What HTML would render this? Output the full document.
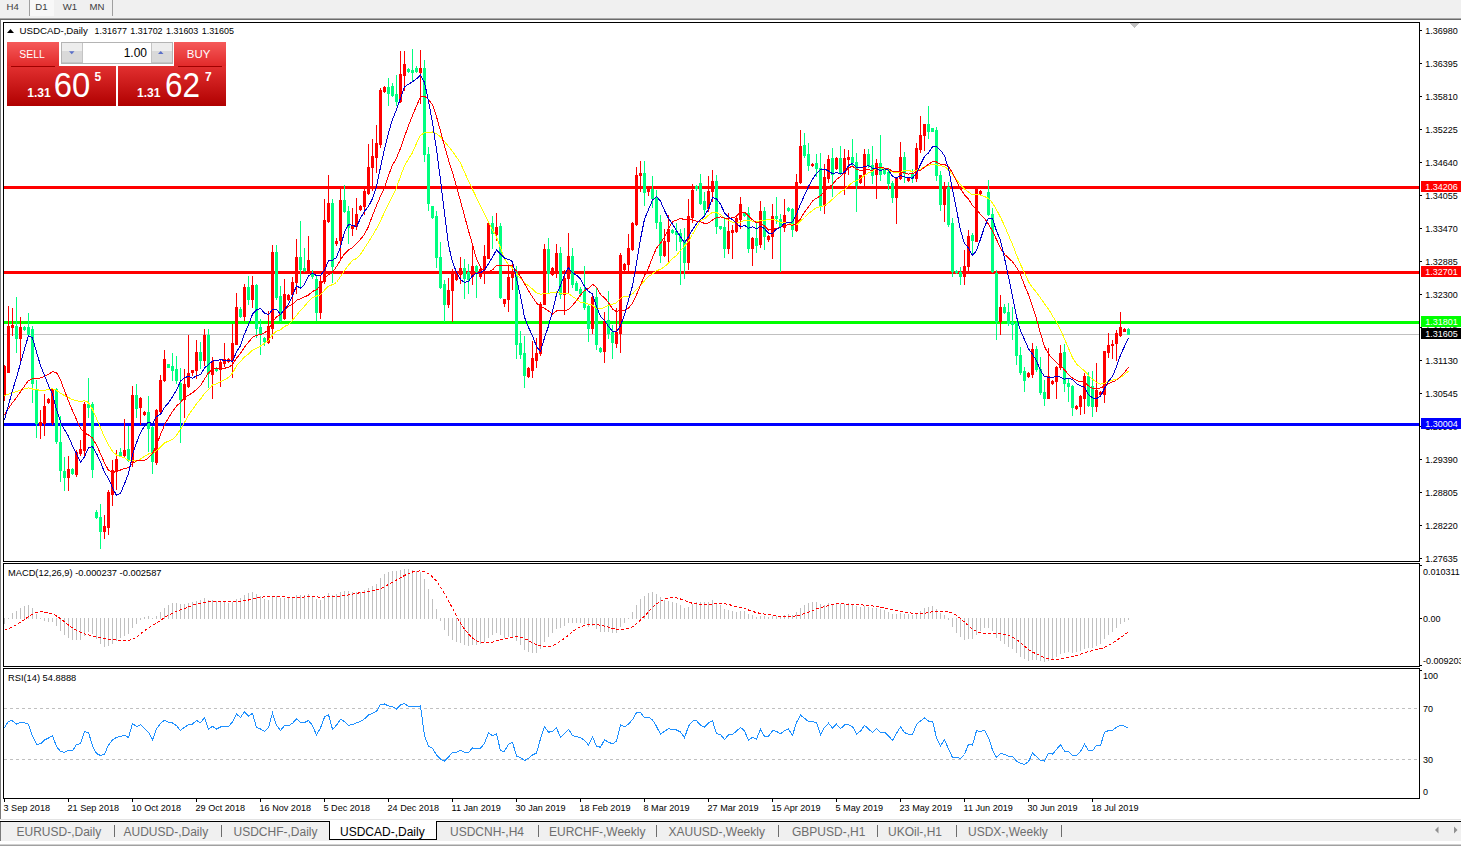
<!DOCTYPE html>
<html><head><meta charset="utf-8">
<style>
html,body{margin:0;padding:0;width:1461px;height:846px;overflow:hidden;background:#fff;}
svg{position:absolute;left:0;top:0;}
text{font-family:"Liberation Sans", sans-serif;}
</style></head><body>
<svg width="1461" height="846" viewBox="0 0 1461 846">
<!-- toolbar -->
<rect x="0" y="0" width="1461" height="18" fill="#f0f0f0"/>
<rect x="0" y="18" width="1461" height="1" fill="#a9a9a9"/>
<rect x="0" y="19" width="1461" height="1" fill="#6b6b6b"/>
<rect x="30" y="0" width="24" height="16" fill="#f8f8f8"/>
<rect x="29" y="0" width="1" height="16" fill="#a0a0a0"/>
<rect x="112" y="0" width="1" height="16" fill="#a0a0a0"/>
<g fill="#3c3c3c" font-size="9.6">
<text x="6.5" y="10">H4</text><text x="35.3" y="10">D1</text><text x="62.8" y="10">W1</text><text x="89.5" y="10">MN</text>
</g>
<!-- left window edge -->
<rect x="0" y="20" width="1" height="799" fill="#7a7a7a"/>
<!-- clip region for chart -->
<defs><clipPath id="cm"><rect x="4" y="23" width="1415" height="538"/></clipPath>
<clipPath id="cmacd"><rect x="4" y="564" width="1415" height="102"/></clipPath>
<clipPath id="crsi"><rect x="4" y="669" width="1415" height="129"/></clipPath></defs>
<g clip-path="url(#cm)" shape-rendering="crispEdges">
<rect x="4" y="334" width="1415" height="1" fill="#c0c0c0"/>
<rect x="4" y="186" width="1415" height="3" fill="#ff0000"/>
<rect x="4" y="271" width="1415" height="3" fill="#ff0000"/>
<rect x="4" y="321" width="1415" height="3" fill="#00ff00"/>
<rect x="4" y="423" width="1415" height="3" fill="#0000ff"/>
<rect x="4" y="365" width="1" height="36" fill="#ff0000"/>
<rect x="3" y="366" width="3" height="30" fill="#ff0000"/>
<rect x="8" y="306" width="1" height="67" fill="#ff0000"/>
<rect x="7" y="326" width="3" height="47" fill="#ff0000"/>
<rect x="12" y="308" width="1" height="28" fill="#ff0000"/>
<rect x="11" y="325" width="3" height="3" fill="#ff0000"/>
<rect x="16" y="297" width="1" height="56" fill="#00ff7f"/>
<rect x="15" y="326" width="3" height="13" fill="#00ff7f"/>
<rect x="20" y="317" width="1" height="48" fill="#ff0000"/>
<rect x="19" y="327" width="3" height="12" fill="#ff0000"/>
<rect x="24" y="326" width="1" height="5" fill="#00ff7f"/>
<rect x="23" y="327" width="3" height="3" fill="#00ff7f"/>
<rect x="28" y="313" width="1" height="23" fill="#00ff7f"/>
<rect x="27" y="327" width="3" height="8" fill="#00ff7f"/>
<rect x="32" y="326" width="1" height="77" fill="#00ff7f"/>
<rect x="31" y="329" width="3" height="55" fill="#00ff7f"/>
<rect x="36" y="380" width="1" height="58" fill="#00ff7f"/>
<rect x="35" y="389" width="3" height="35" fill="#00ff7f"/>
<rect x="40" y="410" width="1" height="29" fill="#ff0000"/>
<rect x="39" y="422" width="3" height="4" fill="#ff0000"/>
<rect x="44" y="394" width="1" height="42" fill="#ff0000"/>
<rect x="43" y="406" width="3" height="18" fill="#ff0000"/>
<rect x="48" y="398" width="1" height="6" fill="#ff0000"/>
<rect x="47" y="399" width="3" height="4" fill="#ff0000"/>
<rect x="52" y="388" width="1" height="37" fill="#ff0000"/>
<rect x="51" y="389" width="3" height="34" fill="#ff0000"/>
<rect x="56" y="388" width="1" height="56" fill="#00ff7f"/>
<rect x="55" y="389" width="3" height="53" fill="#00ff7f"/>
<rect x="60" y="416" width="1" height="66" fill="#00ff7f"/>
<rect x="59" y="442" width="3" height="29" fill="#00ff7f"/>
<rect x="64" y="457" width="1" height="34" fill="#00ff7f"/>
<rect x="63" y="471" width="3" height="7" fill="#00ff7f"/>
<rect x="68" y="456" width="1" height="35" fill="#ff0000"/>
<rect x="67" y="469" width="3" height="9" fill="#ff0000"/>
<rect x="72" y="468" width="1" height="7" fill="#00ff7f"/>
<rect x="71" y="469" width="3" height="5" fill="#00ff7f"/>
<rect x="76" y="450" width="1" height="27" fill="#ff0000"/>
<rect x="75" y="452" width="3" height="23" fill="#ff0000"/>
<rect x="80" y="440" width="1" height="16" fill="#ff0000"/>
<rect x="79" y="449" width="3" height="5" fill="#ff0000"/>
<rect x="84" y="402" width="1" height="55" fill="#ff0000"/>
<rect x="83" y="404" width="3" height="47" fill="#ff0000"/>
<rect x="88" y="378" width="1" height="40" fill="#00ff7f"/>
<rect x="87" y="404" width="3" height="4" fill="#00ff7f"/>
<rect x="92" y="402" width="1" height="76" fill="#00ff7f"/>
<rect x="91" y="404" width="3" height="66" fill="#00ff7f"/>
<rect x="96" y="510" width="1" height="9" fill="#00ff7f"/>
<rect x="95" y="512" width="3" height="6" fill="#00ff7f"/>
<rect x="100" y="504" width="1" height="45" fill="#00ff7f"/>
<rect x="99" y="517" width="3" height="15" fill="#00ff7f"/>
<rect x="104" y="515" width="1" height="24" fill="#ff0000"/>
<rect x="103" y="526" width="3" height="6" fill="#ff0000"/>
<rect x="108" y="490" width="1" height="45" fill="#ff0000"/>
<rect x="107" y="492" width="3" height="36" fill="#ff0000"/>
<rect x="112" y="460" width="1" height="46" fill="#ff0000"/>
<rect x="111" y="470" width="3" height="25" fill="#ff0000"/>
<rect x="116" y="450" width="1" height="40" fill="#ff0000"/>
<rect x="115" y="459" width="3" height="12" fill="#ff0000"/>
<rect x="120" y="448" width="1" height="9" fill="#00ff7f"/>
<rect x="119" y="452" width="3" height="4" fill="#00ff7f"/>
<rect x="124" y="419" width="1" height="38" fill="#ff0000"/>
<rect x="123" y="450" width="3" height="6" fill="#ff0000"/>
<rect x="128" y="426" width="1" height="36" fill="#00ff7f"/>
<rect x="127" y="449" width="3" height="12" fill="#00ff7f"/>
<rect x="132" y="386" width="1" height="81" fill="#ff0000"/>
<rect x="131" y="395" width="3" height="68" fill="#ff0000"/>
<rect x="136" y="384" width="1" height="34" fill="#00ff7f"/>
<rect x="135" y="395" width="3" height="14" fill="#00ff7f"/>
<rect x="140" y="397" width="1" height="28" fill="#ff0000"/>
<rect x="139" y="398" width="3" height="10" fill="#ff0000"/>
<rect x="144" y="411" width="1" height="5" fill="#ff0000"/>
<rect x="143" y="412" width="3" height="3" fill="#ff0000"/>
<rect x="148" y="396" width="1" height="56" fill="#00ff7f"/>
<rect x="147" y="412" width="3" height="17" fill="#00ff7f"/>
<rect x="152" y="426" width="1" height="48" fill="#00ff7f"/>
<rect x="151" y="427" width="3" height="35" fill="#00ff7f"/>
<rect x="156" y="409" width="1" height="56" fill="#ff0000"/>
<rect x="155" y="410" width="3" height="53" fill="#ff0000"/>
<rect x="160" y="375" width="1" height="38" fill="#ff0000"/>
<rect x="159" y="380" width="3" height="32" fill="#ff0000"/>
<rect x="164" y="350" width="1" height="32" fill="#ff0000"/>
<rect x="163" y="359" width="3" height="22" fill="#ff0000"/>
<rect x="168" y="364" width="1" height="4" fill="#00ff7f"/>
<rect x="167" y="364" width="3" height="4" fill="#00ff7f"/>
<rect x="172" y="353" width="1" height="28" fill="#00ff7f"/>
<rect x="171" y="366" width="3" height="5" fill="#00ff7f"/>
<rect x="176" y="356" width="1" height="28" fill="#00ff7f"/>
<rect x="175" y="369" width="3" height="12" fill="#00ff7f"/>
<rect x="180" y="368" width="1" height="75" fill="#00ff7f"/>
<rect x="179" y="383" width="3" height="17" fill="#00ff7f"/>
<rect x="184" y="369" width="1" height="49" fill="#ff0000"/>
<rect x="183" y="384" width="3" height="16" fill="#ff0000"/>
<rect x="188" y="335" width="1" height="53" fill="#ff0000"/>
<rect x="187" y="373" width="3" height="14" fill="#ff0000"/>
<rect x="192" y="370" width="1" height="6" fill="#ff0000"/>
<rect x="191" y="370" width="3" height="3" fill="#ff0000"/>
<rect x="196" y="340" width="1" height="39" fill="#ff0000"/>
<rect x="195" y="352" width="3" height="19" fill="#ff0000"/>
<rect x="200" y="342" width="1" height="27" fill="#00ff7f"/>
<rect x="199" y="352" width="3" height="9" fill="#00ff7f"/>
<rect x="204" y="329" width="1" height="37" fill="#ff0000"/>
<rect x="203" y="335" width="3" height="26" fill="#ff0000"/>
<rect x="208" y="329" width="1" height="59" fill="#00ff7f"/>
<rect x="207" y="335" width="3" height="39" fill="#00ff7f"/>
<rect x="212" y="357" width="1" height="42" fill="#ff0000"/>
<rect x="211" y="361" width="3" height="14" fill="#ff0000"/>
<rect x="216" y="367" width="1" height="5" fill="#00ff7f"/>
<rect x="215" y="368" width="3" height="3" fill="#00ff7f"/>
<rect x="220" y="360" width="1" height="27" fill="#ff0000"/>
<rect x="219" y="362" width="3" height="8" fill="#ff0000"/>
<rect x="224" y="343" width="1" height="24" fill="#ff0000"/>
<rect x="223" y="359" width="3" height="5" fill="#ff0000"/>
<rect x="228" y="358" width="1" height="5" fill="#ff0000"/>
<rect x="227" y="359" width="3" height="3" fill="#ff0000"/>
<rect x="232" y="324" width="1" height="54" fill="#ff0000"/>
<rect x="231" y="343" width="3" height="18" fill="#ff0000"/>
<rect x="236" y="293" width="1" height="52" fill="#ff0000"/>
<rect x="235" y="307" width="3" height="38" fill="#ff0000"/>
<rect x="240" y="307" width="1" height="11" fill="#00ff7f"/>
<rect x="239" y="309" width="3" height="8" fill="#00ff7f"/>
<rect x="244" y="284" width="1" height="37" fill="#ff0000"/>
<rect x="243" y="287" width="3" height="30" fill="#ff0000"/>
<rect x="248" y="276" width="1" height="29" fill="#00ff7f"/>
<rect x="247" y="287" width="3" height="13" fill="#00ff7f"/>
<rect x="252" y="276" width="1" height="32" fill="#ff0000"/>
<rect x="251" y="285" width="3" height="15" fill="#ff0000"/>
<rect x="256" y="284" width="1" height="54" fill="#00ff7f"/>
<rect x="255" y="285" width="3" height="44" fill="#00ff7f"/>
<rect x="260" y="319" width="1" height="36" fill="#00ff7f"/>
<rect x="259" y="327" width="3" height="7" fill="#00ff7f"/>
<rect x="264" y="337" width="1" height="9" fill="#00ff7f"/>
<rect x="263" y="338" width="3" height="4" fill="#00ff7f"/>
<rect x="268" y="311" width="1" height="33" fill="#ff0000"/>
<rect x="267" y="326" width="3" height="17" fill="#ff0000"/>
<rect x="272" y="245" width="1" height="94" fill="#ff0000"/>
<rect x="271" y="252" width="3" height="77" fill="#ff0000"/>
<rect x="276" y="245" width="1" height="55" fill="#00ff7f"/>
<rect x="275" y="252" width="3" height="46" fill="#00ff7f"/>
<rect x="280" y="286" width="1" height="36" fill="#00ff7f"/>
<rect x="279" y="296" width="3" height="25" fill="#00ff7f"/>
<rect x="284" y="279" width="1" height="41" fill="#ff0000"/>
<rect x="283" y="294" width="3" height="25" fill="#ff0000"/>
<rect x="288" y="294" width="1" height="7" fill="#ff0000"/>
<rect x="287" y="295" width="3" height="5" fill="#ff0000"/>
<rect x="292" y="277" width="1" height="44" fill="#ff0000"/>
<rect x="291" y="282" width="3" height="13" fill="#ff0000"/>
<rect x="296" y="239" width="1" height="55" fill="#ff0000"/>
<rect x="295" y="257" width="3" height="26" fill="#ff0000"/>
<rect x="300" y="221" width="1" height="66" fill="#00ff7f"/>
<rect x="299" y="257" width="3" height="13" fill="#00ff7f"/>
<rect x="304" y="248" width="1" height="24" fill="#00ff7f"/>
<rect x="303" y="268" width="3" height="3" fill="#00ff7f"/>
<rect x="308" y="236" width="1" height="36" fill="#ff0000"/>
<rect x="307" y="260" width="3" height="11" fill="#ff0000"/>
<rect x="312" y="270" width="1" height="9" fill="#00ff7f"/>
<rect x="311" y="274" width="3" height="3" fill="#00ff7f"/>
<rect x="316" y="276" width="1" height="45" fill="#00ff7f"/>
<rect x="315" y="279" width="3" height="34" fill="#00ff7f"/>
<rect x="320" y="276" width="1" height="43" fill="#ff0000"/>
<rect x="319" y="281" width="3" height="32" fill="#ff0000"/>
<rect x="324" y="199" width="1" height="85" fill="#ff0000"/>
<rect x="323" y="220" width="3" height="62" fill="#ff0000"/>
<rect x="328" y="175" width="1" height="48" fill="#ff0000"/>
<rect x="327" y="203" width="3" height="19" fill="#ff0000"/>
<rect x="332" y="199" width="1" height="84" fill="#00ff7f"/>
<rect x="331" y="203" width="3" height="64" fill="#00ff7f"/>
<rect x="336" y="238" width="1" height="8" fill="#ff0000"/>
<rect x="335" y="241" width="3" height="3" fill="#ff0000"/>
<rect x="340" y="187" width="1" height="72" fill="#ff0000"/>
<rect x="339" y="200" width="3" height="41" fill="#ff0000"/>
<rect x="344" y="185" width="1" height="28" fill="#00ff7f"/>
<rect x="343" y="200" width="3" height="12" fill="#00ff7f"/>
<rect x="348" y="206" width="1" height="38" fill="#00ff7f"/>
<rect x="347" y="211" width="3" height="17" fill="#00ff7f"/>
<rect x="352" y="208" width="1" height="28" fill="#ff0000"/>
<rect x="351" y="225" width="3" height="4" fill="#ff0000"/>
<rect x="356" y="198" width="1" height="32" fill="#ff0000"/>
<rect x="355" y="214" width="3" height="13" fill="#ff0000"/>
<rect x="360" y="205" width="1" height="6" fill="#ff0000"/>
<rect x="359" y="206" width="3" height="4" fill="#ff0000"/>
<rect x="364" y="188" width="1" height="27" fill="#ff0000"/>
<rect x="363" y="191" width="3" height="16" fill="#ff0000"/>
<rect x="368" y="144" width="1" height="51" fill="#ff0000"/>
<rect x="367" y="167" width="3" height="27" fill="#ff0000"/>
<rect x="372" y="139" width="1" height="52" fill="#ff0000"/>
<rect x="371" y="156" width="3" height="12" fill="#ff0000"/>
<rect x="376" y="125" width="1" height="48" fill="#ff0000"/>
<rect x="375" y="143" width="3" height="15" fill="#ff0000"/>
<rect x="380" y="88" width="1" height="60" fill="#ff0000"/>
<rect x="379" y="90" width="3" height="55" fill="#ff0000"/>
<rect x="384" y="86" width="1" height="7" fill="#ff0000"/>
<rect x="383" y="87" width="3" height="5" fill="#ff0000"/>
<rect x="388" y="78" width="1" height="28" fill="#00ff7f"/>
<rect x="387" y="87" width="3" height="7" fill="#00ff7f"/>
<rect x="392" y="83" width="1" height="14" fill="#00ff7f"/>
<rect x="391" y="86" width="3" height="10" fill="#00ff7f"/>
<rect x="396" y="75" width="1" height="31" fill="#00ff7f"/>
<rect x="395" y="94" width="3" height="8" fill="#00ff7f"/>
<rect x="400" y="51" width="1" height="52" fill="#ff0000"/>
<rect x="399" y="74" width="3" height="28" fill="#ff0000"/>
<rect x="404" y="51" width="1" height="40" fill="#ff0000"/>
<rect x="403" y="64" width="3" height="12" fill="#ff0000"/>
<rect x="408" y="68" width="1" height="5" fill="#00ff7f"/>
<rect x="407" y="69" width="3" height="3" fill="#00ff7f"/>
<rect x="412" y="49" width="1" height="33" fill="#00ff7f"/>
<rect x="411" y="70" width="3" height="3" fill="#00ff7f"/>
<rect x="416" y="66" width="1" height="7" fill="#00ff7f"/>
<rect x="415" y="68" width="3" height="4" fill="#00ff7f"/>
<rect x="420" y="50" width="1" height="54" fill="#ff0000"/>
<rect x="419" y="68" width="3" height="5" fill="#ff0000"/>
<rect x="424" y="60" width="1" height="102" fill="#00ff7f"/>
<rect x="423" y="68" width="3" height="87" fill="#00ff7f"/>
<rect x="428" y="147" width="1" height="64" fill="#00ff7f"/>
<rect x="427" y="154" width="3" height="50" fill="#00ff7f"/>
<rect x="432" y="206" width="1" height="13" fill="#00ff7f"/>
<rect x="431" y="206" width="3" height="12" fill="#00ff7f"/>
<rect x="436" y="211" width="1" height="57" fill="#00ff7f"/>
<rect x="435" y="216" width="3" height="42" fill="#00ff7f"/>
<rect x="440" y="242" width="1" height="47" fill="#00ff7f"/>
<rect x="439" y="257" width="3" height="31" fill="#00ff7f"/>
<rect x="444" y="280" width="1" height="42" fill="#00ff7f"/>
<rect x="443" y="284" width="3" height="21" fill="#00ff7f"/>
<rect x="448" y="278" width="1" height="30" fill="#ff0000"/>
<rect x="447" y="290" width="3" height="15" fill="#ff0000"/>
<rect x="452" y="269" width="1" height="53" fill="#ff0000"/>
<rect x="451" y="273" width="3" height="18" fill="#ff0000"/>
<rect x="456" y="271" width="1" height="10" fill="#ff0000"/>
<rect x="455" y="274" width="3" height="6" fill="#ff0000"/>
<rect x="460" y="257" width="1" height="27" fill="#ff0000"/>
<rect x="459" y="268" width="3" height="7" fill="#ff0000"/>
<rect x="464" y="259" width="1" height="40" fill="#00ff7f"/>
<rect x="463" y="268" width="3" height="11" fill="#00ff7f"/>
<rect x="468" y="264" width="1" height="30" fill="#00ff7f"/>
<rect x="467" y="272" width="3" height="8" fill="#00ff7f"/>
<rect x="472" y="245" width="1" height="40" fill="#ff0000"/>
<rect x="471" y="266" width="3" height="11" fill="#ff0000"/>
<rect x="476" y="265" width="1" height="33" fill="#00ff7f"/>
<rect x="475" y="266" width="3" height="6" fill="#00ff7f"/>
<rect x="480" y="267" width="1" height="12" fill="#ff0000"/>
<rect x="479" y="269" width="3" height="8" fill="#ff0000"/>
<rect x="484" y="245" width="1" height="39" fill="#ff0000"/>
<rect x="483" y="256" width="3" height="14" fill="#ff0000"/>
<rect x="488" y="222" width="1" height="37" fill="#ff0000"/>
<rect x="487" y="223" width="3" height="36" fill="#ff0000"/>
<rect x="492" y="216" width="1" height="33" fill="#00ff7f"/>
<rect x="491" y="223" width="3" height="11" fill="#00ff7f"/>
<rect x="496" y="213" width="1" height="28" fill="#ff0000"/>
<rect x="495" y="227" width="3" height="8" fill="#ff0000"/>
<rect x="500" y="223" width="1" height="76" fill="#00ff7f"/>
<rect x="499" y="226" width="3" height="72" fill="#00ff7f"/>
<rect x="504" y="299" width="1" height="8" fill="#ff0000"/>
<rect x="503" y="299" width="3" height="5" fill="#ff0000"/>
<rect x="508" y="265" width="1" height="47" fill="#ff0000"/>
<rect x="507" y="277" width="3" height="23" fill="#ff0000"/>
<rect x="512" y="264" width="1" height="26" fill="#ff0000"/>
<rect x="511" y="271" width="3" height="7" fill="#ff0000"/>
<rect x="516" y="266" width="1" height="93" fill="#00ff7f"/>
<rect x="515" y="271" width="3" height="74" fill="#00ff7f"/>
<rect x="520" y="331" width="1" height="28" fill="#00ff7f"/>
<rect x="519" y="343" width="3" height="12" fill="#00ff7f"/>
<rect x="524" y="336" width="1" height="52" fill="#00ff7f"/>
<rect x="523" y="353" width="3" height="23" fill="#00ff7f"/>
<rect x="528" y="367" width="1" height="11" fill="#ff0000"/>
<rect x="527" y="368" width="3" height="9" fill="#ff0000"/>
<rect x="532" y="341" width="1" height="37" fill="#ff0000"/>
<rect x="531" y="358" width="3" height="13" fill="#ff0000"/>
<rect x="536" y="338" width="1" height="30" fill="#ff0000"/>
<rect x="535" y="353" width="3" height="8" fill="#ff0000"/>
<rect x="540" y="302" width="1" height="54" fill="#ff0000"/>
<rect x="539" y="304" width="3" height="50" fill="#ff0000"/>
<rect x="544" y="244" width="1" height="61" fill="#ff0000"/>
<rect x="543" y="249" width="3" height="56" fill="#ff0000"/>
<rect x="548" y="238" width="1" height="55" fill="#00ff7f"/>
<rect x="547" y="249" width="3" height="25" fill="#00ff7f"/>
<rect x="552" y="267" width="1" height="9" fill="#ff0000"/>
<rect x="551" y="268" width="3" height="7" fill="#ff0000"/>
<rect x="556" y="244" width="1" height="34" fill="#ff0000"/>
<rect x="555" y="253" width="3" height="18" fill="#ff0000"/>
<rect x="560" y="247" width="1" height="52" fill="#00ff7f"/>
<rect x="559" y="253" width="3" height="42" fill="#00ff7f"/>
<rect x="564" y="270" width="1" height="45" fill="#ff0000"/>
<rect x="563" y="278" width="3" height="17" fill="#ff0000"/>
<rect x="568" y="233" width="1" height="61" fill="#ff0000"/>
<rect x="567" y="256" width="3" height="23" fill="#ff0000"/>
<rect x="572" y="248" width="1" height="40" fill="#00ff7f"/>
<rect x="571" y="256" width="3" height="29" fill="#00ff7f"/>
<rect x="576" y="281" width="1" height="10" fill="#00ff7f"/>
<rect x="575" y="283" width="3" height="8" fill="#00ff7f"/>
<rect x="580" y="287" width="1" height="10" fill="#00ff7f"/>
<rect x="579" y="289" width="3" height="5" fill="#00ff7f"/>
<rect x="584" y="266" width="1" height="44" fill="#00ff7f"/>
<rect x="583" y="291" width="3" height="17" fill="#00ff7f"/>
<rect x="588" y="305" width="1" height="37" fill="#00ff7f"/>
<rect x="587" y="306" width="3" height="23" fill="#00ff7f"/>
<rect x="592" y="295" width="1" height="39" fill="#ff0000"/>
<rect x="591" y="297" width="3" height="32" fill="#ff0000"/>
<rect x="596" y="287" width="1" height="63" fill="#00ff7f"/>
<rect x="595" y="297" width="3" height="48" fill="#00ff7f"/>
<rect x="600" y="347" width="1" height="6" fill="#00ff7f"/>
<rect x="599" y="348" width="3" height="4" fill="#00ff7f"/>
<rect x="604" y="312" width="1" height="51" fill="#ff0000"/>
<rect x="603" y="321" width="3" height="31" fill="#ff0000"/>
<rect x="608" y="291" width="1" height="48" fill="#00ff7f"/>
<rect x="607" y="320" width="3" height="14" fill="#00ff7f"/>
<rect x="612" y="325" width="1" height="34" fill="#00ff7f"/>
<rect x="611" y="332" width="3" height="11" fill="#00ff7f"/>
<rect x="616" y="308" width="1" height="40" fill="#ff0000"/>
<rect x="615" y="332" width="3" height="12" fill="#ff0000"/>
<rect x="620" y="253" width="1" height="100" fill="#ff0000"/>
<rect x="619" y="255" width="3" height="79" fill="#ff0000"/>
<rect x="624" y="263" width="1" height="8" fill="#ff0000"/>
<rect x="623" y="264" width="3" height="6" fill="#ff0000"/>
<rect x="628" y="234" width="1" height="37" fill="#ff0000"/>
<rect x="627" y="248" width="3" height="17" fill="#ff0000"/>
<rect x="632" y="222" width="1" height="29" fill="#ff0000"/>
<rect x="631" y="223" width="3" height="27" fill="#ff0000"/>
<rect x="636" y="167" width="1" height="59" fill="#ff0000"/>
<rect x="635" y="175" width="3" height="50" fill="#ff0000"/>
<rect x="640" y="161" width="1" height="31" fill="#ff0000"/>
<rect x="639" y="173" width="3" height="3" fill="#ff0000"/>
<rect x="644" y="161" width="1" height="45" fill="#00ff7f"/>
<rect x="643" y="173" width="3" height="20" fill="#00ff7f"/>
<rect x="648" y="186" width="1" height="10" fill="#ff0000"/>
<rect x="647" y="189" width="3" height="3" fill="#ff0000"/>
<rect x="652" y="176" width="1" height="32" fill="#00ff7f"/>
<rect x="651" y="189" width="3" height="10" fill="#00ff7f"/>
<rect x="656" y="190" width="1" height="39" fill="#00ff7f"/>
<rect x="655" y="198" width="3" height="25" fill="#00ff7f"/>
<rect x="660" y="215" width="1" height="48" fill="#00ff7f"/>
<rect x="659" y="222" width="3" height="34" fill="#00ff7f"/>
<rect x="664" y="229" width="1" height="28" fill="#ff0000"/>
<rect x="663" y="241" width="3" height="15" fill="#ff0000"/>
<rect x="668" y="215" width="1" height="47" fill="#ff0000"/>
<rect x="667" y="229" width="3" height="13" fill="#ff0000"/>
<rect x="672" y="229" width="1" height="5" fill="#00ff7f"/>
<rect x="671" y="230" width="3" height="3" fill="#00ff7f"/>
<rect x="676" y="223" width="1" height="28" fill="#00ff7f"/>
<rect x="675" y="231" width="3" height="4" fill="#00ff7f"/>
<rect x="680" y="229" width="1" height="56" fill="#00ff7f"/>
<rect x="679" y="233" width="3" height="9" fill="#00ff7f"/>
<rect x="684" y="228" width="1" height="51" fill="#00ff7f"/>
<rect x="683" y="241" width="3" height="22" fill="#00ff7f"/>
<rect x="688" y="199" width="1" height="71" fill="#ff0000"/>
<rect x="687" y="216" width="3" height="47" fill="#ff0000"/>
<rect x="692" y="184" width="1" height="39" fill="#ff0000"/>
<rect x="691" y="190" width="3" height="28" fill="#ff0000"/>
<rect x="696" y="185" width="1" height="6" fill="#00ff7f"/>
<rect x="695" y="186" width="3" height="3" fill="#00ff7f"/>
<rect x="700" y="174" width="1" height="31" fill="#00ff7f"/>
<rect x="699" y="183" width="3" height="21" fill="#00ff7f"/>
<rect x="704" y="192" width="1" height="24" fill="#00ff7f"/>
<rect x="703" y="201" width="3" height="9" fill="#00ff7f"/>
<rect x="708" y="176" width="1" height="36" fill="#ff0000"/>
<rect x="707" y="191" width="3" height="18" fill="#ff0000"/>
<rect x="712" y="170" width="1" height="32" fill="#ff0000"/>
<rect x="711" y="181" width="3" height="11" fill="#ff0000"/>
<rect x="716" y="175" width="1" height="59" fill="#00ff7f"/>
<rect x="715" y="181" width="3" height="46" fill="#00ff7f"/>
<rect x="720" y="226" width="1" height="4" fill="#00ff7f"/>
<rect x="719" y="226" width="3" height="3" fill="#00ff7f"/>
<rect x="724" y="217" width="1" height="41" fill="#00ff7f"/>
<rect x="723" y="227" width="3" height="22" fill="#00ff7f"/>
<rect x="728" y="213" width="1" height="41" fill="#ff0000"/>
<rect x="727" y="231" width="3" height="18" fill="#ff0000"/>
<rect x="732" y="225" width="1" height="34" fill="#ff0000"/>
<rect x="731" y="230" width="3" height="3" fill="#ff0000"/>
<rect x="736" y="215" width="1" height="18" fill="#ff0000"/>
<rect x="735" y="218" width="3" height="14" fill="#ff0000"/>
<rect x="740" y="197" width="1" height="32" fill="#ff0000"/>
<rect x="739" y="204" width="3" height="16" fill="#ff0000"/>
<rect x="744" y="212" width="1" height="5" fill="#00ff7f"/>
<rect x="743" y="213" width="3" height="3" fill="#00ff7f"/>
<rect x="748" y="207" width="1" height="46" fill="#00ff7f"/>
<rect x="747" y="213" width="3" height="36" fill="#00ff7f"/>
<rect x="752" y="237" width="1" height="29" fill="#ff0000"/>
<rect x="751" y="238" width="3" height="11" fill="#ff0000"/>
<rect x="756" y="222" width="1" height="31" fill="#00ff7f"/>
<rect x="755" y="238" width="3" height="8" fill="#00ff7f"/>
<rect x="760" y="201" width="1" height="47" fill="#ff0000"/>
<rect x="759" y="211" width="3" height="34" fill="#ff0000"/>
<rect x="764" y="207" width="1" height="43" fill="#00ff7f"/>
<rect x="763" y="211" width="3" height="26" fill="#00ff7f"/>
<rect x="768" y="235" width="1" height="7" fill="#ff0000"/>
<rect x="767" y="236" width="3" height="4" fill="#ff0000"/>
<rect x="772" y="204" width="1" height="55" fill="#ff0000"/>
<rect x="771" y="216" width="3" height="21" fill="#ff0000"/>
<rect x="776" y="197" width="1" height="27" fill="#00ff7f"/>
<rect x="775" y="216" width="3" height="3" fill="#00ff7f"/>
<rect x="780" y="214" width="1" height="58" fill="#00ff7f"/>
<rect x="779" y="219" width="3" height="8" fill="#00ff7f"/>
<rect x="784" y="199" width="1" height="33" fill="#ff0000"/>
<rect x="783" y="215" width="3" height="13" fill="#ff0000"/>
<rect x="788" y="207" width="1" height="5" fill="#00ff7f"/>
<rect x="787" y="208" width="3" height="3" fill="#00ff7f"/>
<rect x="792" y="208" width="1" height="29" fill="#00ff7f"/>
<rect x="791" y="209" width="3" height="21" fill="#00ff7f"/>
<rect x="796" y="174" width="1" height="58" fill="#ff0000"/>
<rect x="795" y="182" width="3" height="49" fill="#ff0000"/>
<rect x="800" y="130" width="1" height="54" fill="#ff0000"/>
<rect x="799" y="146" width="3" height="37" fill="#ff0000"/>
<rect x="804" y="133" width="1" height="25" fill="#00ff7f"/>
<rect x="803" y="145" width="3" height="11" fill="#00ff7f"/>
<rect x="808" y="143" width="1" height="28" fill="#00ff7f"/>
<rect x="807" y="154" width="3" height="12" fill="#00ff7f"/>
<rect x="812" y="163" width="1" height="4" fill="#ff0000"/>
<rect x="811" y="164" width="3" height="2" fill="#ff0000"/>
<rect x="816" y="154" width="1" height="23" fill="#00ff7f"/>
<rect x="815" y="163" width="3" height="6" fill="#00ff7f"/>
<rect x="820" y="153" width="1" height="58" fill="#00ff7f"/>
<rect x="819" y="168" width="3" height="38" fill="#00ff7f"/>
<rect x="824" y="164" width="1" height="50" fill="#ff0000"/>
<rect x="823" y="177" width="3" height="29" fill="#ff0000"/>
<rect x="828" y="155" width="1" height="28" fill="#ff0000"/>
<rect x="827" y="159" width="3" height="20" fill="#ff0000"/>
<rect x="832" y="148" width="1" height="49" fill="#00ff7f"/>
<rect x="831" y="158" width="3" height="17" fill="#00ff7f"/>
<rect x="836" y="157" width="1" height="13" fill="#ff0000"/>
<rect x="835" y="158" width="3" height="11" fill="#ff0000"/>
<rect x="840" y="146" width="1" height="29" fill="#00ff7f"/>
<rect x="839" y="158" width="3" height="16" fill="#00ff7f"/>
<rect x="844" y="149" width="1" height="46" fill="#ff0000"/>
<rect x="843" y="158" width="3" height="16" fill="#ff0000"/>
<rect x="848" y="150" width="1" height="25" fill="#ff0000"/>
<rect x="847" y="157" width="3" height="3" fill="#ff0000"/>
<rect x="852" y="139" width="1" height="28" fill="#00ff7f"/>
<rect x="851" y="157" width="3" height="6" fill="#00ff7f"/>
<rect x="856" y="153" width="1" height="59" fill="#00ff7f"/>
<rect x="855" y="162" width="3" height="24" fill="#00ff7f"/>
<rect x="860" y="175" width="1" height="9" fill="#ff0000"/>
<rect x="859" y="175" width="3" height="8" fill="#ff0000"/>
<rect x="864" y="149" width="1" height="38" fill="#ff0000"/>
<rect x="863" y="154" width="3" height="21" fill="#ff0000"/>
<rect x="868" y="149" width="1" height="19" fill="#00ff7f"/>
<rect x="867" y="154" width="3" height="12" fill="#00ff7f"/>
<rect x="872" y="146" width="1" height="38" fill="#00ff7f"/>
<rect x="871" y="165" width="3" height="11" fill="#00ff7f"/>
<rect x="876" y="159" width="1" height="40" fill="#ff0000"/>
<rect x="875" y="163" width="3" height="12" fill="#ff0000"/>
<rect x="880" y="135" width="1" height="46" fill="#00ff7f"/>
<rect x="879" y="163" width="3" height="12" fill="#00ff7f"/>
<rect x="884" y="169" width="1" height="6" fill="#00ff7f"/>
<rect x="883" y="170" width="3" height="4" fill="#00ff7f"/>
<rect x="888" y="168" width="1" height="22" fill="#00ff7f"/>
<rect x="887" y="172" width="3" height="12" fill="#00ff7f"/>
<rect x="892" y="181" width="1" height="22" fill="#00ff7f"/>
<rect x="891" y="183" width="3" height="15" fill="#00ff7f"/>
<rect x="896" y="177" width="1" height="47" fill="#ff0000"/>
<rect x="895" y="178" width="3" height="20" fill="#ff0000"/>
<rect x="900" y="142" width="1" height="38" fill="#ff0000"/>
<rect x="899" y="157" width="3" height="22" fill="#ff0000"/>
<rect x="904" y="152" width="1" height="31" fill="#00ff7f"/>
<rect x="903" y="157" width="3" height="17" fill="#00ff7f"/>
<rect x="908" y="177" width="1" height="5" fill="#ff0000"/>
<rect x="907" y="178" width="3" height="3" fill="#ff0000"/>
<rect x="912" y="169" width="1" height="14" fill="#00ff7f"/>
<rect x="911" y="173" width="3" height="6" fill="#00ff7f"/>
<rect x="916" y="143" width="1" height="39" fill="#ff0000"/>
<rect x="915" y="148" width="3" height="31" fill="#ff0000"/>
<rect x="920" y="116" width="1" height="37" fill="#ff0000"/>
<rect x="919" y="135" width="3" height="15" fill="#ff0000"/>
<rect x="924" y="124" width="1" height="27" fill="#ff0000"/>
<rect x="923" y="124" width="3" height="12" fill="#ff0000"/>
<rect x="928" y="106" width="1" height="33" fill="#00ff7f"/>
<rect x="927" y="124" width="3" height="8" fill="#00ff7f"/>
<rect x="932" y="128" width="1" height="4" fill="#00ff7f"/>
<rect x="931" y="128" width="3" height="4" fill="#00ff7f"/>
<rect x="936" y="127" width="1" height="54" fill="#00ff7f"/>
<rect x="935" y="130" width="3" height="46" fill="#00ff7f"/>
<rect x="940" y="171" width="1" height="40" fill="#00ff7f"/>
<rect x="939" y="175" width="3" height="30" fill="#00ff7f"/>
<rect x="944" y="182" width="1" height="40" fill="#ff0000"/>
<rect x="943" y="187" width="3" height="18" fill="#ff0000"/>
<rect x="948" y="182" width="1" height="45" fill="#00ff7f"/>
<rect x="947" y="187" width="3" height="38" fill="#00ff7f"/>
<rect x="952" y="218" width="1" height="59" fill="#00ff7f"/>
<rect x="951" y="223" width="3" height="49" fill="#00ff7f"/>
<rect x="956" y="270" width="1" height="4" fill="#00ff7f"/>
<rect x="955" y="271" width="3" height="2" fill="#00ff7f"/>
<rect x="960" y="267" width="1" height="18" fill="#00ff7f"/>
<rect x="959" y="272" width="3" height="5" fill="#00ff7f"/>
<rect x="964" y="250" width="1" height="35" fill="#ff0000"/>
<rect x="963" y="266" width="3" height="11" fill="#ff0000"/>
<rect x="968" y="230" width="1" height="42" fill="#ff0000"/>
<rect x="967" y="236" width="3" height="31" fill="#ff0000"/>
<rect x="972" y="233" width="1" height="23" fill="#00ff7f"/>
<rect x="971" y="235" width="3" height="6" fill="#00ff7f"/>
<rect x="976" y="188" width="1" height="54" fill="#ff0000"/>
<rect x="975" y="189" width="3" height="53" fill="#ff0000"/>
<rect x="980" y="190" width="1" height="5" fill="#ff0000"/>
<rect x="979" y="191" width="3" height="3" fill="#ff0000"/>
<rect x="984" y="187" width="1" height="2" fill="#ff0000"/>
<rect x="983" y="187" width="3" height="2" fill="#ff0000"/>
<rect x="988" y="180" width="1" height="36" fill="#00ff7f"/>
<rect x="987" y="192" width="3" height="23" fill="#00ff7f"/>
<rect x="992" y="208" width="1" height="65" fill="#00ff7f"/>
<rect x="991" y="214" width="3" height="58" fill="#00ff7f"/>
<rect x="996" y="270" width="1" height="70" fill="#00ff7f"/>
<rect x="995" y="273" width="3" height="49" fill="#00ff7f"/>
<rect x="1000" y="295" width="1" height="40" fill="#ff0000"/>
<rect x="999" y="307" width="3" height="15" fill="#ff0000"/>
<rect x="1004" y="304" width="1" height="10" fill="#00ff7f"/>
<rect x="1003" y="307" width="3" height="6" fill="#00ff7f"/>
<rect x="1008" y="303" width="1" height="23" fill="#00ff7f"/>
<rect x="1007" y="312" width="3" height="12" fill="#00ff7f"/>
<rect x="1012" y="307" width="1" height="33" fill="#00ff7f"/>
<rect x="1011" y="322" width="3" height="3" fill="#00ff7f"/>
<rect x="1016" y="321" width="1" height="44" fill="#00ff7f"/>
<rect x="1015" y="323" width="3" height="33" fill="#00ff7f"/>
<rect x="1020" y="347" width="1" height="28" fill="#00ff7f"/>
<rect x="1019" y="355" width="3" height="18" fill="#00ff7f"/>
<rect x="1024" y="367" width="1" height="25" fill="#00ff7f"/>
<rect x="1023" y="371" width="3" height="10" fill="#00ff7f"/>
<rect x="1028" y="372" width="1" height="6" fill="#ff0000"/>
<rect x="1027" y="373" width="3" height="4" fill="#ff0000"/>
<rect x="1032" y="343" width="1" height="35" fill="#ff0000"/>
<rect x="1031" y="349" width="3" height="26" fill="#ff0000"/>
<rect x="1036" y="346" width="1" height="26" fill="#00ff7f"/>
<rect x="1035" y="349" width="3" height="21" fill="#00ff7f"/>
<rect x="1040" y="357" width="1" height="38" fill="#00ff7f"/>
<rect x="1039" y="369" width="3" height="24" fill="#00ff7f"/>
<rect x="1044" y="380" width="1" height="26" fill="#00ff7f"/>
<rect x="1043" y="392" width="3" height="7" fill="#00ff7f"/>
<rect x="1048" y="348" width="1" height="51" fill="#ff0000"/>
<rect x="1047" y="376" width="3" height="23" fill="#ff0000"/>
<rect x="1052" y="380" width="1" height="5" fill="#ff0000"/>
<rect x="1051" y="381" width="3" height="3" fill="#ff0000"/>
<rect x="1056" y="366" width="1" height="33" fill="#ff0000"/>
<rect x="1055" y="367" width="3" height="15" fill="#ff0000"/>
<rect x="1060" y="345" width="1" height="25" fill="#ff0000"/>
<rect x="1059" y="353" width="3" height="15" fill="#ff0000"/>
<rect x="1064" y="344" width="1" height="48" fill="#00ff7f"/>
<rect x="1063" y="352" width="3" height="32" fill="#00ff7f"/>
<rect x="1068" y="378" width="1" height="24" fill="#00ff7f"/>
<rect x="1067" y="383" width="3" height="4" fill="#00ff7f"/>
<rect x="1072" y="385" width="1" height="31" fill="#00ff7f"/>
<rect x="1071" y="386" width="3" height="22" fill="#00ff7f"/>
<rect x="1076" y="405" width="1" height="5" fill="#ff0000"/>
<rect x="1075" y="406" width="3" height="3" fill="#ff0000"/>
<rect x="1080" y="395" width="1" height="20" fill="#ff0000"/>
<rect x="1079" y="396" width="3" height="11" fill="#ff0000"/>
<rect x="1084" y="373" width="1" height="41" fill="#ff0000"/>
<rect x="1083" y="376" width="3" height="23" fill="#ff0000"/>
<rect x="1088" y="372" width="1" height="35" fill="#00ff7f"/>
<rect x="1087" y="376" width="3" height="30" fill="#00ff7f"/>
<rect x="1092" y="371" width="1" height="46" fill="#00ff7f"/>
<rect x="1091" y="386" width="3" height="21" fill="#00ff7f"/>
<rect x="1096" y="363" width="1" height="49" fill="#ff0000"/>
<rect x="1095" y="390" width="3" height="17" fill="#ff0000"/>
<rect x="1100" y="391" width="1" height="5" fill="#ff0000"/>
<rect x="1099" y="392" width="3" height="3" fill="#ff0000"/>
<rect x="1104" y="351" width="1" height="52" fill="#ff0000"/>
<rect x="1103" y="351" width="3" height="44" fill="#ff0000"/>
<rect x="1108" y="333" width="1" height="25" fill="#ff0000"/>
<rect x="1107" y="345" width="3" height="8" fill="#ff0000"/>
<rect x="1112" y="340" width="1" height="19" fill="#ff0000"/>
<rect x="1111" y="344" width="3" height="2" fill="#ff0000"/>
<rect x="1116" y="330" width="1" height="31" fill="#ff0000"/>
<rect x="1115" y="333" width="3" height="11" fill="#ff0000"/>
<rect x="1120" y="312" width="1" height="25" fill="#ff0000"/>
<rect x="1119" y="327" width="3" height="9" fill="#ff0000"/>
<rect x="1124" y="328" width="1" height="4" fill="#ff0000"/>
<rect x="1123" y="329" width="3" height="3" fill="#ff0000"/>
<rect x="1128" y="328" width="1" height="7" fill="#00ff7f"/>
<rect x="1127" y="329" width="3" height="6" fill="#00ff7f"/>
<polyline points="4.5,395.5 8.5,394.1 12.5,392.5 16.5,391.6 20.5,390.2 24.5,388.9 28.5,387.8 32.5,389.0 36.5,389.7 40.5,390.3 44.5,390.2 48.5,389.7 52.5,388.7 56.5,390.3 60.5,393.2 64.5,395.5 68.5,397.5 72.5,399.6 76.5,400.7 80.5,401.7 84.5,400.6 88.5,402.5 92.5,409.4 96.5,418.5 100.5,427.7 104.5,437.2 108.5,444.9 112.5,451.4 116.5,455.0 120.5,456.5 124.5,457.9 128.5,460.5 132.5,460.3 136.5,461.2 140.5,459.1 144.5,456.4 148.5,454.0 152.5,453.6 156.5,450.6 160.5,447.2 164.5,442.9 168.5,441.2 172.5,439.4 176.5,435.2 180.5,429.5 184.5,422.5 188.5,415.3 192.5,409.5 196.5,403.8 200.5,399.1 204.5,393.4 208.5,389.7 212.5,385.0 216.5,383.8 220.5,381.6 224.5,379.8 228.5,377.3 232.5,373.2 236.5,365.9 240.5,361.4 244.5,357.0 248.5,354.1 252.5,350.2 256.5,348.2 260.5,346.0 264.5,343.2 268.5,340.5 272.5,334.7 276.5,331.2 280.5,329.7 284.5,326.5 288.5,324.6 292.5,320.3 296.5,315.4 300.5,310.5 304.5,306.2 308.5,301.5 312.5,297.5 316.5,296.0 320.5,294.8 324.5,290.2 328.5,286.2 332.5,284.6 336.5,282.5 340.5,276.5 344.5,270.6 348.5,265.2 352.5,260.4 356.5,258.6 360.5,254.3 364.5,248.1 368.5,242.1 372.5,235.5 376.5,228.8 380.5,220.9 384.5,212.2 388.5,203.8 392.5,195.9 396.5,187.6 400.5,176.3 404.5,165.9 408.5,158.8 412.5,152.6 416.5,143.3 420.5,135.1 424.5,132.9 428.5,132.5 432.5,132.0 436.5,133.5 440.5,137.0 444.5,141.7 448.5,146.4 452.5,151.5 456.5,157.1 460.5,163.0 464.5,172.0 468.5,181.1 472.5,189.4 476.5,197.7 480.5,205.7 484.5,214.4 488.5,222.0 492.5,229.7 496.5,237.1 500.5,247.8 504.5,258.8 508.5,264.7 512.5,267.9 516.5,274.0 520.5,278.6 524.5,282.8 528.5,285.8 532.5,289.1 536.5,292.9 540.5,294.3 544.5,293.4 548.5,293.2 552.5,292.6 556.5,292.0 560.5,293.1 564.5,293.5 568.5,293.5 572.5,296.5 576.5,299.2 580.5,302.3 584.5,302.8 588.5,304.2 592.5,305.1 596.5,308.6 600.5,308.9 604.5,307.4 608.5,305.4 612.5,304.1 616.5,302.9 620.5,298.2 624.5,296.3 628.5,296.3 632.5,293.9 636.5,289.5 640.5,285.6 644.5,280.8 648.5,276.5 652.5,273.8 656.5,270.8 660.5,269.2 664.5,266.7 668.5,263.0 672.5,258.4 676.5,255.4 680.5,250.5 684.5,246.3 688.5,241.3 692.5,234.5 696.5,227.1 700.5,221.0 704.5,218.8 708.5,215.3 712.5,212.1 716.5,212.3 720.5,214.8 724.5,218.4 728.5,220.2 732.5,222.2 736.5,223.1 740.5,222.3 744.5,220.4 748.5,220.7 752.5,221.1 756.5,221.7 760.5,220.6 764.5,220.4 768.5,219.2 772.5,219.2 776.5,220.5 780.5,222.3 784.5,222.9 788.5,222.9 792.5,224.7 796.5,224.8 800.5,221.0 804.5,217.5 808.5,213.5 812.5,210.4 816.5,207.4 820.5,206.8 824.5,205.5 828.5,202.8 832.5,199.3 836.5,195.5 840.5,192.1 844.5,189.5 848.5,185.8 852.5,182.3 856.5,180.8 860.5,178.7 864.5,175.3 868.5,172.9 872.5,171.3 876.5,168.1 880.5,167.7 884.5,169.0 888.5,170.4 892.5,171.9 896.5,172.5 900.5,172.0 904.5,170.5 908.5,170.5 912.5,171.5 916.5,170.2 920.5,169.1 924.5,166.8 928.5,165.5 932.5,164.3 936.5,164.9 940.5,165.8 944.5,166.4 948.5,169.7 952.5,174.7 956.5,179.4 960.5,184.7 964.5,189.1 968.5,192.1 972.5,194.8 976.5,194.5 980.5,195.1 984.5,196.5 988.5,198.5 992.5,202.9 996.5,209.7 1000.5,217.3 1004.5,225.7 1008.5,235.2 1012.5,244.4 1016.5,255.0 1020.5,264.4 1024.5,272.8 1028.5,281.6 1032.5,287.6 1036.5,292.3 1040.5,298.0 1044.5,303.8 1048.5,309.0 1052.5,315.9 1056.5,322.0 1060.5,329.8 1064.5,338.9 1068.5,348.4 1072.5,357.6 1076.5,364.0 1080.5,367.6 1084.5,370.9 1088.5,375.3 1092.5,379.3 1096.5,382.4 1100.5,384.2 1104.5,383.2 1108.5,381.5 1112.5,380.1 1116.5,379.4 1120.5,377.4 1124.5,374.4 1128.5,371.3" fill="none" stroke="#ffff00" stroke-width="1"/>
<polyline points="4.5,414.6 8.5,408.6 12.5,402.6 16.5,397.6 20.5,391.7 24.5,386.0 28.5,380.6 32.5,378.8 36.5,378.4 40.5,378.0 44.5,376.4 48.5,374.4 52.5,371.6 56.5,372.5 60.5,379.9 64.5,390.7 68.5,401.0 72.5,410.6 76.5,419.6 80.5,428.1 84.5,433.1 88.5,434.9 92.5,438.1 96.5,444.9 100.5,453.9 104.5,462.9 108.5,470.3 112.5,472.4 116.5,471.6 120.5,470.0 124.5,468.6 128.5,467.7 132.5,463.6 136.5,460.7 140.5,460.3 144.5,460.6 148.5,457.7 152.5,453.7 156.5,445.1 160.5,434.6 164.5,425.1 168.5,417.8 172.5,411.4 176.5,406.1 180.5,402.4 184.5,397.0 188.5,395.4 192.5,392.7 196.5,389.4 200.5,385.7 204.5,379.1 208.5,372.8 212.5,369.3 216.5,368.6 220.5,368.8 224.5,368.2 228.5,367.4 232.5,364.8 236.5,358.2 240.5,353.4 244.5,347.2 248.5,342.1 252.5,337.4 256.5,335.1 260.5,334.9 264.5,332.6 268.5,330.1 272.5,321.7 276.5,317.1 280.5,314.3 284.5,309.6 288.5,306.2 292.5,304.4 296.5,300.2 300.5,298.9 304.5,296.9 308.5,295.1 312.5,291.4 316.5,289.9 320.5,285.6 324.5,278.0 328.5,274.5 332.5,272.3 336.5,266.6 340.5,259.9 344.5,253.9 348.5,250.0 352.5,247.7 356.5,243.8 360.5,239.2 364.5,234.3 368.5,226.5 372.5,215.4 376.5,205.5 380.5,196.2 384.5,187.9 388.5,175.6 392.5,165.1 396.5,158.1 400.5,148.3 404.5,136.6 408.5,125.6 412.5,115.5 416.5,105.9 420.5,97.1 424.5,96.1 428.5,99.5 432.5,104.8 436.5,116.7 440.5,131.0 444.5,146.1 448.5,160.0 452.5,172.3 456.5,186.6 460.5,201.1 464.5,215.9 468.5,230.7 472.5,244.6 476.5,259.1 480.5,267.4 484.5,271.1 488.5,271.6 492.5,269.9 496.5,265.6 500.5,265.1 504.5,265.7 508.5,266.0 512.5,265.8 516.5,271.2 520.5,276.6 524.5,283.5 528.5,290.8 532.5,297.0 536.5,303.0 540.5,306.4 544.5,308.3 548.5,311.1 552.5,314.1 556.5,310.9 560.5,310.6 564.5,310.6 568.5,309.6 572.5,305.3 576.5,300.7 580.5,294.9 584.5,290.5 588.5,288.4 592.5,284.4 596.5,287.2 600.5,294.5 604.5,297.9 608.5,302.6 612.5,308.9 616.5,311.6 620.5,310.0 624.5,310.6 628.5,308.0 632.5,303.2 636.5,294.8 640.5,285.2 644.5,275.5 648.5,267.8 652.5,257.4 656.5,248.1 660.5,243.4 664.5,236.9 668.5,228.8 672.5,221.6 676.5,220.1 680.5,218.5 684.5,219.5 688.5,219.0 692.5,220.1 696.5,221.1 700.5,221.9 704.5,223.4 708.5,222.9 712.5,219.9 716.5,217.9 720.5,216.9 724.5,218.3 728.5,218.2 732.5,217.9 736.5,216.3 740.5,212.1 744.5,212.1 748.5,216.2 752.5,219.8 756.5,222.8 760.5,222.9 764.5,226.1 768.5,230.1 772.5,229.4 776.5,228.6 780.5,227.1 784.5,225.9 788.5,224.5 792.5,225.3 796.5,223.7 800.5,218.8 804.5,212.1 808.5,206.9 812.5,201.1 816.5,198.1 820.5,195.9 824.5,191.6 828.5,187.6 832.5,184.4 836.5,179.6 840.5,176.6 844.5,172.9 848.5,167.7 852.5,166.3 856.5,169.1 860.5,170.5 864.5,169.7 868.5,169.8 872.5,170.3 876.5,167.3 880.5,167.1 884.5,168.1 888.5,168.7 892.5,171.5 896.5,171.9 900.5,171.8 904.5,172.9 908.5,174.1 912.5,173.6 916.5,171.6 920.5,170.3 924.5,167.4 928.5,164.2 932.5,161.9 936.5,162.0 940.5,164.2 944.5,164.5 948.5,166.4 952.5,173.1 956.5,181.3 960.5,188.6 964.5,194.9 968.5,199.1 972.5,205.6 976.5,209.5 980.5,214.3 984.5,218.3 988.5,224.2 992.5,231.1 996.5,239.4 1000.5,248.0 1004.5,254.3 1008.5,258.0 1012.5,261.7 1016.5,267.4 1020.5,274.9 1024.5,285.2 1028.5,294.7 1032.5,306.1 1036.5,318.9 1040.5,333.5 1044.5,346.6 1048.5,354.1 1052.5,358.4 1056.5,362.7 1060.5,365.6 1064.5,369.9 1068.5,374.4 1072.5,378.1 1076.5,380.5 1080.5,381.6 1084.5,381.9 1088.5,385.9 1092.5,388.5 1096.5,388.4 1100.5,387.9 1104.5,386.1 1108.5,383.6 1112.5,381.9 1116.5,380.5 1120.5,376.5 1124.5,372.4 1128.5,367.2" fill="none" stroke="#ff0000" stroke-width="1"/>
<polyline points="4.5,419.6 8.5,405.1 12.5,390.4 16.5,377.5 20.5,363.1 24.5,348.9 28.5,335.5 32.5,337.9 36.5,351.8 40.5,365.6 44.5,375.4 48.5,385.6 52.5,394.2 56.5,409.5 60.5,421.9 64.5,429.6 68.5,436.4 72.5,445.9 76.5,453.5 80.5,462.1 84.5,456.8 88.5,447.8 92.5,446.6 96.5,453.5 100.5,461.8 104.5,472.4 108.5,478.5 112.5,487.9 116.5,495.4 120.5,493.4 124.5,483.8 128.5,473.6 132.5,454.9 136.5,442.9 140.5,432.6 144.5,425.9 148.5,422.1 152.5,423.6 156.5,416.5 160.5,414.4 164.5,407.4 168.5,402.9 172.5,396.9 176.5,390.1 180.5,381.2 184.5,377.5 188.5,376.5 192.5,378.1 196.5,375.9 200.5,374.5 204.5,368.1 208.5,364.4 212.5,361.1 216.5,360.6 220.5,359.5 224.5,360.5 228.5,360.4 232.5,361.5 236.5,352.1 240.5,345.6 244.5,333.8 248.5,324.8 252.5,314.2 256.5,309.8 260.5,308.4 264.5,313.2 268.5,314.6 272.5,309.6 276.5,309.4 280.5,314.4 284.5,309.5 288.5,304.1 292.5,295.6 296.5,285.8 300.5,288.2 304.5,284.4 308.5,275.8 312.5,273.2 316.5,275.6 320.5,275.5 324.5,270.2 328.5,260.8 332.5,260.2 336.5,257.5 340.5,246.6 344.5,232.2 348.5,224.5 352.5,225.2 356.5,226.8 360.5,218.2 364.5,211.1 368.5,206.4 372.5,198.5 376.5,186.5 380.5,167.2 384.5,149.1 388.5,132.9 392.5,119.2 396.5,109.8 400.5,98.1 404.5,86.8 408.5,84.1 412.5,81.9 416.5,78.8 420.5,74.9 424.5,82.5 428.5,100.9 432.5,122.8 436.5,149.4 440.5,180.1 444.5,213.4 448.5,245.1 452.5,262.1 456.5,272.2 460.5,279.5 464.5,282.5 468.5,281.4 472.5,275.9 476.5,273.2 480.5,272.6 484.5,270.1 488.5,263.6 492.5,257.2 496.5,249.8 500.5,254.2 504.5,258.2 508.5,259.4 512.5,261.5 516.5,278.8 520.5,296.1 524.5,317.2 528.5,327.4 532.5,335.8 536.5,346.6 540.5,351.4 544.5,337.8 548.5,326.2 552.5,310.9 556.5,294.5 560.5,285.4 564.5,274.6 568.5,267.8 572.5,272.8 576.5,275.2 580.5,278.8 584.5,286.5 588.5,291.4 592.5,294.1 596.5,306.6 600.5,316.2 604.5,320.6 608.5,326.4 612.5,331.4 616.5,331.9 620.5,325.9 624.5,314.5 628.5,299.8 632.5,285.8 636.5,263.2 640.5,239.1 644.5,219.1 648.5,209.6 652.5,200.2 656.5,196.5 660.5,201.1 664.5,210.5 668.5,218.5 672.5,224.2 676.5,230.6 680.5,236.8 684.5,242.5 688.5,236.9 692.5,229.6 696.5,223.8 700.5,219.6 704.5,216.1 708.5,208.9 712.5,197.4 716.5,198.8 720.5,204.2 724.5,212.8 728.5,216.8 732.5,219.8 736.5,223.6 740.5,226.9 744.5,225.4 748.5,228.2 752.5,226.8 756.5,228.8 760.5,226.1 764.5,228.6 768.5,233.2 772.5,233.4 776.5,229.1 780.5,227.4 784.5,223.1 788.5,222.9 792.5,221.9 796.5,214.2 800.5,204.2 804.5,195.2 808.5,186.5 812.5,179.2 816.5,173.2 820.5,169.8 824.5,169.1 828.5,170.9 832.5,173.6 836.5,172.6 840.5,173.9 844.5,172.5 848.5,165.6 852.5,163.5 856.5,167.2 860.5,167.4 864.5,166.8 868.5,165.6 872.5,168.1 876.5,168.9 880.5,170.6 884.5,168.9 888.5,170.1 892.5,176.2 896.5,178.1 900.5,175.5 904.5,176.9 908.5,177.5 912.5,178.2 916.5,173.2 920.5,164.4 924.5,156.6 928.5,152.9 932.5,146.9 936.5,146.5 940.5,150.2 944.5,155.8 948.5,168.5 952.5,189.5 956.5,209.6 960.5,230.4 964.5,243.4 968.5,247.9 972.5,255.5 976.5,250.5 980.5,239.1 984.5,226.9 988.5,218.1 992.5,218.8 996.5,230.9 1000.5,240.5 1004.5,258.1 1008.5,276.9 1012.5,296.5 1016.5,316.6 1020.5,331.1 1024.5,339.5 1028.5,348.9 1032.5,354.2 1036.5,360.8 1040.5,370.5 1044.5,376.6 1048.5,377.2 1052.5,377.4 1056.5,376.5 1060.5,377.1 1064.5,379.1 1068.5,378.2 1072.5,379.5 1076.5,383.8 1080.5,385.9 1084.5,387.2 1088.5,394.6 1092.5,397.9 1096.5,398.5 1100.5,396.4 1104.5,388.5 1108.5,381.2 1112.5,376.6 1116.5,366.4 1120.5,355.1 1124.5,346.4 1128.5,338.1" fill="none" stroke="#0000cd" stroke-width="1"/>
</g>
<g shape-rendering="crispEdges">
<rect x="3" y="22" width="1417" height="1" fill="#000"/>
<rect x="3" y="561" width="1417" height="1" fill="#000"/>
<rect x="3" y="22" width="1" height="540" fill="#000"/>
<rect x="1419" y="22" width="1" height="540" fill="#000"/>
<rect x="3" y="563" width="1417" height="1" fill="#000"/>
<rect x="3" y="666" width="1417" height="1" fill="#000"/>
<rect x="3" y="563" width="1" height="104" fill="#000"/>
<rect x="1419" y="563" width="1" height="104" fill="#000"/>
<rect x="3" y="668" width="1417" height="1" fill="#000"/>
<rect x="3" y="798" width="1417" height="1" fill="#000"/>
<rect x="3" y="668" width="1" height="131" fill="#000"/>
<rect x="1419" y="668" width="1" height="131" fill="#000"/>
<polygon points="1130,23 1139,23 1134.5,28" fill="#c0c0c0"/>
<rect x="1420" y="30" width="2" height="1" fill="#000"/>
<rect x="1420" y="63" width="2" height="1" fill="#000"/>
<rect x="1420" y="96" width="2" height="1" fill="#000"/>
<rect x="1420" y="129" width="2" height="1" fill="#000"/>
<rect x="1420" y="162" width="2" height="1" fill="#000"/>
<rect x="1420" y="195" width="2" height="1" fill="#000"/>
<rect x="1420" y="228" width="2" height="1" fill="#000"/>
<rect x="1420" y="261" width="2" height="1" fill="#000"/>
<rect x="1420" y="294" width="2" height="1" fill="#000"/>
<rect x="1420" y="327" width="2" height="1" fill="#000"/>
<rect x="1420" y="360" width="2" height="1" fill="#000"/>
<rect x="1420" y="393" width="2" height="1" fill="#000"/>
<rect x="1420" y="426" width="2" height="1" fill="#000"/>
<rect x="1420" y="459" width="2" height="1" fill="#000"/>
<rect x="1420" y="492" width="2" height="1" fill="#000"/>
<rect x="1420" y="525" width="2" height="1" fill="#000"/>
<rect x="1420" y="558" width="2" height="1" fill="#000"/>
</g>
<g font-size="9.8" fill="#000">
<text x="1425.3" y="34" textLength="32.6" lengthAdjust="spacingAndGlyphs">1.36980</text>
<text x="1425.3" y="67" textLength="32.6" lengthAdjust="spacingAndGlyphs">1.36395</text>
<text x="1425.3" y="100" textLength="32.6" lengthAdjust="spacingAndGlyphs">1.35810</text>
<text x="1425.3" y="133" textLength="32.6" lengthAdjust="spacingAndGlyphs">1.35225</text>
<text x="1425.3" y="166" textLength="32.6" lengthAdjust="spacingAndGlyphs">1.34640</text>
<text x="1425.3" y="199" textLength="32.6" lengthAdjust="spacingAndGlyphs">1.34055</text>
<text x="1425.3" y="232" textLength="32.6" lengthAdjust="spacingAndGlyphs">1.33470</text>
<text x="1425.3" y="265" textLength="32.6" lengthAdjust="spacingAndGlyphs">1.32885</text>
<text x="1425.3" y="298" textLength="32.6" lengthAdjust="spacingAndGlyphs">1.32300</text>
<text x="1425.3" y="331" textLength="32.6" lengthAdjust="spacingAndGlyphs">1.31715</text>
<text x="1425.3" y="364" textLength="32.6" lengthAdjust="spacingAndGlyphs">1.31130</text>
<text x="1425.3" y="397" textLength="32.6" lengthAdjust="spacingAndGlyphs">1.30545</text>
<text x="1425.3" y="430" textLength="32.6" lengthAdjust="spacingAndGlyphs">1.29960</text>
<text x="1425.3" y="463" textLength="32.6" lengthAdjust="spacingAndGlyphs">1.29390</text>
<text x="1425.3" y="496" textLength="32.6" lengthAdjust="spacingAndGlyphs">1.28805</text>
<text x="1425.3" y="529" textLength="32.6" lengthAdjust="spacingAndGlyphs">1.28220</text>
<text x="1425.3" y="562" textLength="32.6" lengthAdjust="spacingAndGlyphs">1.27635</text>
</g>
<rect x="1421" y="181" width="40" height="11" fill="#ff0000"/>
<text x="1425.3" y="190" font-size="9.8" fill="#fff" textLength="32.6" lengthAdjust="spacingAndGlyphs">1.34206</text>
<rect x="1421" y="266" width="40" height="11" fill="#ff0000"/>
<text x="1425.3" y="275" font-size="9.8" fill="#fff" textLength="32.6" lengthAdjust="spacingAndGlyphs">1.32701</text>
<rect x="1421" y="316" width="40" height="11" fill="#00ff00"/>
<text x="1425.3" y="325" font-size="9.8" fill="#fff" textLength="32.6" lengthAdjust="spacingAndGlyphs">1.31801</text>
<rect x="1421" y="328" width="40" height="11" fill="#000000"/>
<text x="1425.3" y="337" font-size="9.8" fill="#fff" textLength="32.6" lengthAdjust="spacingAndGlyphs">1.31605</text>
<rect x="1421" y="418" width="40" height="11" fill="#0000ff"/>
<text x="1425.3" y="427" font-size="9.8" fill="#fff" textLength="32.6" lengthAdjust="spacingAndGlyphs">1.30004</text>
<g clip-path="url(#cmacd)" shape-rendering="crispEdges">
<rect x="4" y="618" width="1" height="6" fill="#c0c0c0"/>
<rect x="8" y="618" width="1" height="1" fill="#c0c0c0"/>
<rect x="12" y="613" width="1" height="6" fill="#c0c0c0"/>
<rect x="16" y="611" width="1" height="8" fill="#c0c0c0"/>
<rect x="20" y="608" width="1" height="11" fill="#c0c0c0"/>
<rect x="24" y="606" width="1" height="13" fill="#c0c0c0"/>
<rect x="28" y="605" width="1" height="14" fill="#c0c0c0"/>
<rect x="32" y="608" width="1" height="11" fill="#c0c0c0"/>
<rect x="36" y="614" width="1" height="5" fill="#c0c0c0"/>
<rect x="40" y="618" width="1" height="1" fill="#c0c0c0"/>
<rect x="44" y="618" width="1" height="3" fill="#c0c0c0"/>
<rect x="48" y="618" width="1" height="4" fill="#c0c0c0"/>
<rect x="52" y="618" width="1" height="4" fill="#c0c0c0"/>
<rect x="56" y="618" width="1" height="8" fill="#c0c0c0"/>
<rect x="60" y="618" width="1" height="13" fill="#c0c0c0"/>
<rect x="64" y="618" width="1" height="17" fill="#c0c0c0"/>
<rect x="68" y="618" width="1" height="20" fill="#c0c0c0"/>
<rect x="72" y="618" width="1" height="22" fill="#c0c0c0"/>
<rect x="76" y="618" width="1" height="22" fill="#c0c0c0"/>
<rect x="80" y="618" width="1" height="22" fill="#c0c0c0"/>
<rect x="84" y="618" width="1" height="18" fill="#c0c0c0"/>
<rect x="88" y="618" width="1" height="14" fill="#c0c0c0"/>
<rect x="92" y="618" width="1" height="16" fill="#c0c0c0"/>
<rect x="96" y="618" width="1" height="21" fill="#c0c0c0"/>
<rect x="100" y="618" width="1" height="26" fill="#c0c0c0"/>
<rect x="104" y="618" width="1" height="29" fill="#c0c0c0"/>
<rect x="108" y="618" width="1" height="28" fill="#c0c0c0"/>
<rect x="112" y="618" width="1" height="26" fill="#c0c0c0"/>
<rect x="116" y="618" width="1" height="23" fill="#c0c0c0"/>
<rect x="120" y="618" width="1" height="20" fill="#c0c0c0"/>
<rect x="124" y="618" width="1" height="18" fill="#c0c0c0"/>
<rect x="128" y="618" width="1" height="16" fill="#c0c0c0"/>
<rect x="132" y="618" width="1" height="10" fill="#c0c0c0"/>
<rect x="136" y="618" width="1" height="6" fill="#c0c0c0"/>
<rect x="140" y="618" width="1" height="2" fill="#c0c0c0"/>
<rect x="144" y="617" width="1" height="2" fill="#c0c0c0"/>
<rect x="148" y="616" width="1" height="3" fill="#c0c0c0"/>
<rect x="152" y="618" width="1" height="1" fill="#c0c0c0"/>
<rect x="156" y="616" width="1" height="3" fill="#c0c0c0"/>
<rect x="160" y="612" width="1" height="7" fill="#c0c0c0"/>
<rect x="164" y="608" width="1" height="11" fill="#c0c0c0"/>
<rect x="168" y="605" width="1" height="14" fill="#c0c0c0"/>
<rect x="172" y="603" width="1" height="16" fill="#c0c0c0"/>
<rect x="176" y="603" width="1" height="16" fill="#c0c0c0"/>
<rect x="180" y="604" width="1" height="15" fill="#c0c0c0"/>
<rect x="184" y="604" width="1" height="15" fill="#c0c0c0"/>
<rect x="188" y="603" width="1" height="16" fill="#c0c0c0"/>
<rect x="192" y="602" width="1" height="17" fill="#c0c0c0"/>
<rect x="196" y="601" width="1" height="18" fill="#c0c0c0"/>
<rect x="200" y="600" width="1" height="19" fill="#c0c0c0"/>
<rect x="204" y="598" width="1" height="21" fill="#c0c0c0"/>
<rect x="208" y="600" width="1" height="19" fill="#c0c0c0"/>
<rect x="212" y="600" width="1" height="19" fill="#c0c0c0"/>
<rect x="216" y="601" width="1" height="18" fill="#c0c0c0"/>
<rect x="220" y="602" width="1" height="17" fill="#c0c0c0"/>
<rect x="224" y="602" width="1" height="17" fill="#c0c0c0"/>
<rect x="228" y="603" width="1" height="16" fill="#c0c0c0"/>
<rect x="232" y="602" width="1" height="17" fill="#c0c0c0"/>
<rect x="236" y="599" width="1" height="20" fill="#c0c0c0"/>
<rect x="240" y="598" width="1" height="21" fill="#c0c0c0"/>
<rect x="244" y="595" width="1" height="24" fill="#c0c0c0"/>
<rect x="248" y="593" width="1" height="26" fill="#c0c0c0"/>
<rect x="252" y="592" width="1" height="27" fill="#c0c0c0"/>
<rect x="256" y="594" width="1" height="25" fill="#c0c0c0"/>
<rect x="260" y="596" width="1" height="23" fill="#c0c0c0"/>
<rect x="264" y="599" width="1" height="20" fill="#c0c0c0"/>
<rect x="268" y="600" width="1" height="19" fill="#c0c0c0"/>
<rect x="272" y="596" width="1" height="23" fill="#c0c0c0"/>
<rect x="276" y="596" width="1" height="23" fill="#c0c0c0"/>
<rect x="280" y="598" width="1" height="21" fill="#c0c0c0"/>
<rect x="284" y="598" width="1" height="21" fill="#c0c0c0"/>
<rect x="288" y="598" width="1" height="21" fill="#c0c0c0"/>
<rect x="292" y="597" width="1" height="22" fill="#c0c0c0"/>
<rect x="296" y="595" width="1" height="24" fill="#c0c0c0"/>
<rect x="300" y="595" width="1" height="24" fill="#c0c0c0"/>
<rect x="304" y="595" width="1" height="24" fill="#c0c0c0"/>
<rect x="308" y="594" width="1" height="25" fill="#c0c0c0"/>
<rect x="312" y="596" width="1" height="23" fill="#c0c0c0"/>
<rect x="316" y="599" width="1" height="20" fill="#c0c0c0"/>
<rect x="320" y="600" width="1" height="19" fill="#c0c0c0"/>
<rect x="324" y="596" width="1" height="23" fill="#c0c0c0"/>
<rect x="328" y="593" width="1" height="26" fill="#c0c0c0"/>
<rect x="332" y="595" width="1" height="24" fill="#c0c0c0"/>
<rect x="336" y="594" width="1" height="25" fill="#c0c0c0"/>
<rect x="340" y="592" width="1" height="27" fill="#c0c0c0"/>
<rect x="344" y="591" width="1" height="28" fill="#c0c0c0"/>
<rect x="348" y="591" width="1" height="28" fill="#c0c0c0"/>
<rect x="352" y="592" width="1" height="27" fill="#c0c0c0"/>
<rect x="356" y="592" width="1" height="27" fill="#c0c0c0"/>
<rect x="360" y="592" width="1" height="27" fill="#c0c0c0"/>
<rect x="364" y="590" width="1" height="29" fill="#c0c0c0"/>
<rect x="368" y="588" width="1" height="31" fill="#c0c0c0"/>
<rect x="372" y="586" width="1" height="33" fill="#c0c0c0"/>
<rect x="376" y="584" width="1" height="35" fill="#c0c0c0"/>
<rect x="380" y="578" width="1" height="41" fill="#c0c0c0"/>
<rect x="384" y="574" width="1" height="45" fill="#c0c0c0"/>
<rect x="388" y="572" width="1" height="47" fill="#c0c0c0"/>
<rect x="392" y="571" width="1" height="48" fill="#c0c0c0"/>
<rect x="396" y="571" width="1" height="48" fill="#c0c0c0"/>
<rect x="400" y="570" width="1" height="49" fill="#c0c0c0"/>
<rect x="404" y="569" width="1" height="50" fill="#c0c0c0"/>
<rect x="408" y="569" width="1" height="50" fill="#c0c0c0"/>
<rect x="412" y="570" width="1" height="49" fill="#c0c0c0"/>
<rect x="416" y="571" width="1" height="48" fill="#c0c0c0"/>
<rect x="420" y="572" width="1" height="47" fill="#c0c0c0"/>
<rect x="424" y="579" width="1" height="40" fill="#c0c0c0"/>
<rect x="428" y="589" width="1" height="30" fill="#c0c0c0"/>
<rect x="432" y="599" width="1" height="20" fill="#c0c0c0"/>
<rect x="436" y="609" width="1" height="10" fill="#c0c0c0"/>
<rect x="440" y="618" width="1" height="3" fill="#c0c0c0"/>
<rect x="444" y="618" width="1" height="12" fill="#c0c0c0"/>
<rect x="448" y="618" width="1" height="18" fill="#c0c0c0"/>
<rect x="452" y="618" width="1" height="22" fill="#c0c0c0"/>
<rect x="456" y="618" width="1" height="24" fill="#c0c0c0"/>
<rect x="460" y="618" width="1" height="25" fill="#c0c0c0"/>
<rect x="464" y="618" width="1" height="27" fill="#c0c0c0"/>
<rect x="468" y="618" width="1" height="28" fill="#c0c0c0"/>
<rect x="472" y="618" width="1" height="27" fill="#c0c0c0"/>
<rect x="476" y="618" width="1" height="27" fill="#c0c0c0"/>
<rect x="480" y="618" width="1" height="26" fill="#c0c0c0"/>
<rect x="484" y="618" width="1" height="24" fill="#c0c0c0"/>
<rect x="488" y="618" width="1" height="20" fill="#c0c0c0"/>
<rect x="492" y="618" width="1" height="17" fill="#c0c0c0"/>
<rect x="496" y="618" width="1" height="15" fill="#c0c0c0"/>
<rect x="500" y="618" width="1" height="17" fill="#c0c0c0"/>
<rect x="504" y="618" width="1" height="20" fill="#c0c0c0"/>
<rect x="508" y="618" width="1" height="19" fill="#c0c0c0"/>
<rect x="512" y="618" width="1" height="19" fill="#c0c0c0"/>
<rect x="516" y="618" width="1" height="23" fill="#c0c0c0"/>
<rect x="520" y="618" width="1" height="27" fill="#c0c0c0"/>
<rect x="524" y="618" width="1" height="32" fill="#c0c0c0"/>
<rect x="528" y="618" width="1" height="34" fill="#c0c0c0"/>
<rect x="532" y="618" width="1" height="35" fill="#c0c0c0"/>
<rect x="536" y="618" width="1" height="35" fill="#c0c0c0"/>
<rect x="540" y="618" width="1" height="31" fill="#c0c0c0"/>
<rect x="544" y="618" width="1" height="24" fill="#c0c0c0"/>
<rect x="548" y="618" width="1" height="19" fill="#c0c0c0"/>
<rect x="552" y="618" width="1" height="15" fill="#c0c0c0"/>
<rect x="556" y="618" width="1" height="11" fill="#c0c0c0"/>
<rect x="560" y="618" width="1" height="10" fill="#c0c0c0"/>
<rect x="564" y="618" width="1" height="8" fill="#c0c0c0"/>
<rect x="568" y="618" width="1" height="5" fill="#c0c0c0"/>
<rect x="572" y="618" width="1" height="5" fill="#c0c0c0"/>
<rect x="576" y="618" width="1" height="5" fill="#c0c0c0"/>
<rect x="580" y="618" width="1" height="5" fill="#c0c0c0"/>
<rect x="584" y="618" width="1" height="6" fill="#c0c0c0"/>
<rect x="588" y="618" width="1" height="9" fill="#c0c0c0"/>
<rect x="592" y="618" width="1" height="8" fill="#c0c0c0"/>
<rect x="596" y="618" width="1" height="11" fill="#c0c0c0"/>
<rect x="600" y="618" width="1" height="14" fill="#c0c0c0"/>
<rect x="604" y="618" width="1" height="14" fill="#c0c0c0"/>
<rect x="608" y="618" width="1" height="14" fill="#c0c0c0"/>
<rect x="612" y="618" width="1" height="15" fill="#c0c0c0"/>
<rect x="616" y="618" width="1" height="15" fill="#c0c0c0"/>
<rect x="620" y="618" width="1" height="9" fill="#c0c0c0"/>
<rect x="624" y="618" width="1" height="5" fill="#c0c0c0"/>
<rect x="628" y="618" width="1" height="1" fill="#c0c0c0"/>
<rect x="632" y="612" width="1" height="7" fill="#c0c0c0"/>
<rect x="636" y="605" width="1" height="14" fill="#c0c0c0"/>
<rect x="640" y="599" width="1" height="20" fill="#c0c0c0"/>
<rect x="644" y="596" width="1" height="23" fill="#c0c0c0"/>
<rect x="648" y="593" width="1" height="26" fill="#c0c0c0"/>
<rect x="652" y="592" width="1" height="27" fill="#c0c0c0"/>
<rect x="656" y="594" width="1" height="25" fill="#c0c0c0"/>
<rect x="660" y="597" width="1" height="22" fill="#c0c0c0"/>
<rect x="664" y="600" width="1" height="19" fill="#c0c0c0"/>
<rect x="668" y="601" width="1" height="18" fill="#c0c0c0"/>
<rect x="672" y="602" width="1" height="17" fill="#c0c0c0"/>
<rect x="676" y="603" width="1" height="16" fill="#c0c0c0"/>
<rect x="680" y="605" width="1" height="14" fill="#c0c0c0"/>
<rect x="684" y="608" width="1" height="11" fill="#c0c0c0"/>
<rect x="688" y="607" width="1" height="12" fill="#c0c0c0"/>
<rect x="692" y="604" width="1" height="15" fill="#c0c0c0"/>
<rect x="696" y="602" width="1" height="17" fill="#c0c0c0"/>
<rect x="700" y="602" width="1" height="17" fill="#c0c0c0"/>
<rect x="704" y="602" width="1" height="17" fill="#c0c0c0"/>
<rect x="708" y="602" width="1" height="17" fill="#c0c0c0"/>
<rect x="712" y="600" width="1" height="19" fill="#c0c0c0"/>
<rect x="716" y="603" width="1" height="16" fill="#c0c0c0"/>
<rect x="720" y="605" width="1" height="14" fill="#c0c0c0"/>
<rect x="724" y="609" width="1" height="10" fill="#c0c0c0"/>
<rect x="728" y="610" width="1" height="9" fill="#c0c0c0"/>
<rect x="732" y="611" width="1" height="8" fill="#c0c0c0"/>
<rect x="736" y="612" width="1" height="7" fill="#c0c0c0"/>
<rect x="740" y="611" width="1" height="8" fill="#c0c0c0"/>
<rect x="744" y="611" width="1" height="8" fill="#c0c0c0"/>
<rect x="748" y="614" width="1" height="5" fill="#c0c0c0"/>
<rect x="752" y="615" width="1" height="4" fill="#c0c0c0"/>
<rect x="756" y="617" width="1" height="2" fill="#c0c0c0"/>
<rect x="760" y="616" width="1" height="3" fill="#c0c0c0"/>
<rect x="764" y="616" width="1" height="3" fill="#c0c0c0"/>
<rect x="768" y="617" width="1" height="2" fill="#c0c0c0"/>
<rect x="772" y="616" width="1" height="3" fill="#c0c0c0"/>
<rect x="776" y="616" width="1" height="3" fill="#c0c0c0"/>
<rect x="780" y="616" width="1" height="3" fill="#c0c0c0"/>
<rect x="784" y="615" width="1" height="4" fill="#c0c0c0"/>
<rect x="788" y="614" width="1" height="5" fill="#c0c0c0"/>
<rect x="792" y="615" width="1" height="4" fill="#c0c0c0"/>
<rect x="796" y="612" width="1" height="7" fill="#c0c0c0"/>
<rect x="800" y="608" width="1" height="11" fill="#c0c0c0"/>
<rect x="804" y="605" width="1" height="14" fill="#c0c0c0"/>
<rect x="808" y="603" width="1" height="16" fill="#c0c0c0"/>
<rect x="812" y="602" width="1" height="17" fill="#c0c0c0"/>
<rect x="816" y="602" width="1" height="17" fill="#c0c0c0"/>
<rect x="820" y="604" width="1" height="15" fill="#c0c0c0"/>
<rect x="824" y="605" width="1" height="14" fill="#c0c0c0"/>
<rect x="828" y="603" width="1" height="16" fill="#c0c0c0"/>
<rect x="832" y="604" width="1" height="15" fill="#c0c0c0"/>
<rect x="836" y="603" width="1" height="16" fill="#c0c0c0"/>
<rect x="840" y="604" width="1" height="15" fill="#c0c0c0"/>
<rect x="844" y="604" width="1" height="15" fill="#c0c0c0"/>
<rect x="848" y="603" width="1" height="16" fill="#c0c0c0"/>
<rect x="852" y="604" width="1" height="15" fill="#c0c0c0"/>
<rect x="856" y="606" width="1" height="13" fill="#c0c0c0"/>
<rect x="860" y="607" width="1" height="12" fill="#c0c0c0"/>
<rect x="864" y="606" width="1" height="13" fill="#c0c0c0"/>
<rect x="868" y="607" width="1" height="12" fill="#c0c0c0"/>
<rect x="872" y="608" width="1" height="11" fill="#c0c0c0"/>
<rect x="876" y="608" width="1" height="11" fill="#c0c0c0"/>
<rect x="880" y="609" width="1" height="10" fill="#c0c0c0"/>
<rect x="884" y="610" width="1" height="9" fill="#c0c0c0"/>
<rect x="888" y="612" width="1" height="7" fill="#c0c0c0"/>
<rect x="892" y="614" width="1" height="5" fill="#c0c0c0"/>
<rect x="896" y="614" width="1" height="5" fill="#c0c0c0"/>
<rect x="900" y="613" width="1" height="6" fill="#c0c0c0"/>
<rect x="904" y="614" width="1" height="5" fill="#c0c0c0"/>
<rect x="908" y="614" width="1" height="5" fill="#c0c0c0"/>
<rect x="912" y="615" width="1" height="4" fill="#c0c0c0"/>
<rect x="916" y="613" width="1" height="6" fill="#c0c0c0"/>
<rect x="920" y="611" width="1" height="8" fill="#c0c0c0"/>
<rect x="924" y="608" width="1" height="11" fill="#c0c0c0"/>
<rect x="928" y="607" width="1" height="12" fill="#c0c0c0"/>
<rect x="932" y="606" width="1" height="13" fill="#c0c0c0"/>
<rect x="936" y="609" width="1" height="10" fill="#c0c0c0"/>
<rect x="940" y="613" width="1" height="6" fill="#c0c0c0"/>
<rect x="944" y="615" width="1" height="4" fill="#c0c0c0"/>
<rect x="948" y="618" width="1" height="2" fill="#c0c0c0"/>
<rect x="952" y="618" width="1" height="9" fill="#c0c0c0"/>
<rect x="956" y="618" width="1" height="15" fill="#c0c0c0"/>
<rect x="960" y="618" width="1" height="19" fill="#c0c0c0"/>
<rect x="964" y="618" width="1" height="22" fill="#c0c0c0"/>
<rect x="968" y="618" width="1" height="21" fill="#c0c0c0"/>
<rect x="972" y="618" width="1" height="21" fill="#c0c0c0"/>
<rect x="976" y="618" width="1" height="17" fill="#c0c0c0"/>
<rect x="980" y="618" width="1" height="13" fill="#c0c0c0"/>
<rect x="984" y="618" width="1" height="10" fill="#c0c0c0"/>
<rect x="988" y="618" width="1" height="10" fill="#c0c0c0"/>
<rect x="992" y="618" width="1" height="13" fill="#c0c0c0"/>
<rect x="996" y="618" width="1" height="20" fill="#c0c0c0"/>
<rect x="1000" y="618" width="1" height="23" fill="#c0c0c0"/>
<rect x="1004" y="618" width="1" height="26" fill="#c0c0c0"/>
<rect x="1008" y="618" width="1" height="29" fill="#c0c0c0"/>
<rect x="1012" y="618" width="1" height="31" fill="#c0c0c0"/>
<rect x="1016" y="618" width="1" height="35" fill="#c0c0c0"/>
<rect x="1020" y="618" width="1" height="39" fill="#c0c0c0"/>
<rect x="1024" y="618" width="1" height="41" fill="#c0c0c0"/>
<rect x="1028" y="618" width="1" height="43" fill="#c0c0c0"/>
<rect x="1032" y="618" width="1" height="42" fill="#c0c0c0"/>
<rect x="1036" y="618" width="1" height="42" fill="#c0c0c0"/>
<rect x="1040" y="618" width="1" height="43" fill="#c0c0c0"/>
<rect x="1044" y="618" width="1" height="44" fill="#c0c0c0"/>
<rect x="1048" y="618" width="1" height="43" fill="#c0c0c0"/>
<rect x="1052" y="618" width="1" height="41" fill="#c0c0c0"/>
<rect x="1056" y="618" width="1" height="39" fill="#c0c0c0"/>
<rect x="1060" y="618" width="1" height="36" fill="#c0c0c0"/>
<rect x="1064" y="618" width="1" height="35" fill="#c0c0c0"/>
<rect x="1068" y="618" width="1" height="34" fill="#c0c0c0"/>
<rect x="1072" y="618" width="1" height="35" fill="#c0c0c0"/>
<rect x="1076" y="618" width="1" height="34" fill="#c0c0c0"/>
<rect x="1080" y="618" width="1" height="33" fill="#c0c0c0"/>
<rect x="1084" y="618" width="1" height="31" fill="#c0c0c0"/>
<rect x="1088" y="618" width="1" height="30" fill="#c0c0c0"/>
<rect x="1092" y="618" width="1" height="30" fill="#c0c0c0"/>
<rect x="1096" y="618" width="1" height="28" fill="#c0c0c0"/>
<rect x="1100" y="618" width="1" height="26" fill="#c0c0c0"/>
<rect x="1104" y="618" width="1" height="21" fill="#c0c0c0"/>
<rect x="1108" y="618" width="1" height="17" fill="#c0c0c0"/>
<rect x="1112" y="618" width="1" height="14" fill="#c0c0c0"/>
<rect x="1116" y="618" width="1" height="10" fill="#c0c0c0"/>
<rect x="1120" y="618" width="1" height="6" fill="#c0c0c0"/>
<rect x="1124" y="618" width="1" height="4" fill="#c0c0c0"/>
<rect x="1128" y="618" width="1" height="2" fill="#c0c0c0"/>
<polyline points="4.5,630.3 8.5,628.8 12.5,626.9 16.5,624.7 20.5,622.2 24.5,619.5 28.5,616.6 32.5,614.2 36.5,612.3 40.5,611.7 44.5,612.0 48.5,612.9 52.5,614.0 56.5,615.9 60.5,618.6 64.5,621.8 68.5,625.0 72.5,627.9 76.5,630.2 80.5,632.3 84.5,633.8 88.5,634.9 92.5,635.8 96.5,636.7 100.5,637.7 104.5,638.6 108.5,639.3 112.5,639.8 116.5,640.0 120.5,640.3 124.5,640.6 128.5,640.5 132.5,639.2 136.5,637.0 140.5,634.0 144.5,630.7 148.5,627.7 152.5,625.3 156.5,622.9 160.5,620.5 164.5,617.7 168.5,615.3 172.5,613.1 176.5,611.3 180.5,609.9 184.5,608.5 188.5,606.8 192.5,605.3 196.5,604.0 200.5,603.2 204.5,602.4 208.5,602.0 212.5,601.8 216.5,601.5 220.5,601.3 224.5,601.2 228.5,601.3 232.5,601.4 236.5,601.3 240.5,601.3 244.5,600.7 248.5,600.0 252.5,598.9 256.5,598.0 260.5,597.3 264.5,596.9 268.5,596.6 272.5,596.2 276.5,596.0 280.5,596.4 284.5,596.8 288.5,597.5 292.5,597.9 296.5,597.9 300.5,597.5 304.5,596.9 308.5,596.8 312.5,596.8 316.5,596.9 320.5,597.2 324.5,597.0 328.5,596.5 332.5,596.4 336.5,596.3 340.5,596.0 344.5,595.5 348.5,595.0 352.5,594.2 356.5,593.3 360.5,592.7 364.5,592.5 368.5,591.8 372.5,590.8 376.5,590.0 380.5,588.6 384.5,586.7 388.5,584.5 392.5,582.2 396.5,580.0 400.5,577.7 404.5,575.5 408.5,573.6 412.5,572.0 416.5,571.2 420.5,570.9 424.5,571.7 428.5,573.7 432.5,576.8 436.5,581.1 440.5,586.8 444.5,593.5 448.5,600.8 452.5,608.3 456.5,616.0 460.5,623.0 464.5,629.1 468.5,634.2 472.5,638.1 476.5,640.8 480.5,642.3 484.5,643.0 488.5,642.9 492.5,642.1 496.5,640.9 500.5,639.9 504.5,639.0 508.5,638.1 512.5,637.2 516.5,636.9 520.5,637.3 524.5,638.6 528.5,640.4 532.5,642.7 536.5,644.7 540.5,646.0 544.5,646.4 548.5,646.5 552.5,645.6 556.5,643.7 560.5,641.3 564.5,638.4 568.5,635.1 572.5,631.8 576.5,628.9 580.5,626.8 584.5,625.4 588.5,624.7 592.5,624.4 596.5,624.6 600.5,625.2 604.5,626.1 608.5,627.2 612.5,628.3 616.5,629.4 620.5,629.7 624.5,629.3 628.5,628.4 632.5,626.7 636.5,623.7 640.5,620.2 644.5,616.2 648.5,611.9 652.5,607.5 656.5,603.9 660.5,601.1 664.5,599.1 668.5,597.8 672.5,597.5 676.5,597.9 680.5,599.0 684.5,600.5 688.5,602.1 692.5,603.3 696.5,603.9 700.5,604.1 704.5,604.4 708.5,604.3 712.5,604.1 716.5,603.9 720.5,603.6 724.5,603.8 728.5,604.5 732.5,605.5 736.5,606.6 740.5,607.5 744.5,608.6 748.5,610.0 752.5,611.4 756.5,612.6 760.5,613.4 764.5,614.1 768.5,614.7 772.5,615.2 776.5,615.8 780.5,616.3 784.5,616.5 788.5,616.4 792.5,616.3 796.5,615.9 800.5,615.0 804.5,613.6 808.5,612.1 812.5,610.6 816.5,609.0 820.5,607.8 824.5,606.7 828.5,605.4 832.5,604.5 836.5,604.0 840.5,603.9 844.5,604.0 848.5,604.1 852.5,604.3 856.5,604.5 860.5,604.8 864.5,605.1 868.5,605.4 872.5,606.0 876.5,606.4 880.5,607.1 884.5,607.8 888.5,608.7 892.5,609.6 896.5,610.4 900.5,611.2 904.5,611.9 908.5,612.6 912.5,613.3 916.5,613.7 920.5,613.8 924.5,613.4 928.5,612.6 932.5,611.6 936.5,611.1 940.5,611.1 944.5,611.2 948.5,611.7 952.5,613.2 956.5,615.5 960.5,618.6 964.5,622.1 968.5,625.7 972.5,629.0 976.5,631.3 980.5,632.9 984.5,633.8 988.5,633.8 992.5,633.6 996.5,633.7 1000.5,633.9 1004.5,634.5 1008.5,635.4 1012.5,637.1 1016.5,639.5 1020.5,642.7 1024.5,646.2 1028.5,649.5 1032.5,652.0 1036.5,654.0 1040.5,655.8 1044.5,657.5 1048.5,658.7 1052.5,659.4 1056.5,659.5 1060.5,658.8 1064.5,658.0 1068.5,657.1 1072.5,656.3 1076.5,655.4 1080.5,654.2 1084.5,652.8 1088.5,651.6 1092.5,650.5 1096.5,649.7 1100.5,648.7 1104.5,647.3 1108.5,645.3 1112.5,643.0 1116.5,640.4 1120.5,637.7 1124.5,634.7 1128.5,631.6" fill="none" stroke="#ff0000" stroke-width="1" stroke-dasharray="3,2"/>
</g>
<g shape-rendering="crispEdges">
<rect x="1420" y="565" width="2" height="1" fill="#000"/>
<rect x="1420" y="618" width="2" height="1" fill="#000"/>
<rect x="1420" y="665" width="2" height="1" fill="#000"/>
</g>
<g font-size="9" fill="#000">
<text x="1423" y="575">0.010311</text><text x="1423" y="622">0.00</text><text x="1423" y="664">-0.009203</text>
</g>
<g shape-rendering="crispEdges">
<line x1="4" y1="708.5" x2="1419" y2="708.5" stroke="#c0c0c0" stroke-dasharray="3,3"/>
<line x1="4" y1="759.5" x2="1419" y2="759.5" stroke="#c0c0c0" stroke-dasharray="3,3"/>
<rect x="1420" y="670" width="2" height="1" fill="#000"/>
</g>
<g clip-path="url(#crsi)" shape-rendering="crispEdges"><polyline points="4.5,727.7 8.5,721.1 12.5,720.9 16.5,724.1 20.5,722.2 24.5,722.7 28.5,724.1 32.5,736.4 36.5,744.2 40.5,743.9 44.5,739.9 48.5,738.1 52.5,735.6 56.5,746.5 60.5,751.4 64.5,752.5 68.5,750.1 72.5,750.9 76.5,744.5 80.5,743.6 84.5,731.7 88.5,732.5 92.5,745.9 96.5,753.5 100.5,755.5 104.5,754.1 108.5,745.0 112.5,739.8 116.5,737.3 120.5,736.4 124.5,735.1 128.5,737.6 132.5,723.4 136.5,726.6 140.5,724.7 144.5,728.3 148.5,732.4 152.5,739.9 156.5,728.8 160.5,723.5 164.5,720.1 168.5,722.1 172.5,722.9 176.5,725.6 180.5,730.5 184.5,727.2 188.5,724.9 192.5,724.2 196.5,720.3 200.5,722.9 204.5,717.7 208.5,729.1 212.5,726.4 216.5,729.0 220.5,727.0 224.5,726.3 228.5,726.3 232.5,722.1 236.5,714.1 240.5,717.5 244.5,711.7 248.5,716.2 252.5,713.4 256.5,727.6 260.5,729.0 264.5,731.4 268.5,727.5 272.5,713.0 276.5,725.2 280.5,730.5 284.5,725.6 288.5,725.8 292.5,723.3 296.5,718.8 300.5,722.2 304.5,722.5 308.5,720.5 312.5,725.4 316.5,735.0 320.5,728.0 324.5,717.1 328.5,714.7 332.5,729.3 336.5,725.2 340.5,719.2 344.5,721.7 348.5,725.2 352.5,724.8 356.5,722.9 360.5,721.5 364.5,718.9 368.5,715.0 372.5,713.3 376.5,711.3 380.5,704.3 384.5,704.0 388.5,706.0 392.5,706.7 396.5,709.0 400.5,704.9 404.5,703.5 408.5,706.3 412.5,706.7 416.5,706.6 420.5,706.0 424.5,735.7 428.5,746.0 432.5,748.5 436.5,755.0 440.5,759.0 444.5,761.2 448.5,757.0 452.5,752.1 456.5,752.2 460.5,750.4 464.5,752.3 468.5,752.4 472.5,747.9 476.5,749.0 480.5,748.3 484.5,743.4 488.5,732.7 492.5,735.7 496.5,733.8 500.5,750.9 504.5,751.2 508.5,744.2 512.5,742.3 516.5,756.1 520.5,757.6 524.5,760.6 528.5,758.3 532.5,754.9 536.5,753.2 540.5,738.8 544.5,726.8 548.5,732.3 552.5,731.2 556.5,728.1 560.5,737.3 564.5,733.8 568.5,729.3 572.5,735.4 576.5,736.7 580.5,737.4 584.5,740.5 588.5,744.9 592.5,736.8 596.5,746.1 600.5,747.3 604.5,739.8 608.5,742.1 612.5,743.9 616.5,741.2 620.5,724.8 624.5,726.9 628.5,724.0 632.5,719.7 636.5,712.7 640.5,712.5 644.5,717.7 648.5,717.2 652.5,719.8 656.5,726.4 660.5,734.3 664.5,731.2 668.5,728.7 672.5,729.5 676.5,730.0 680.5,732.0 684.5,737.8 688.5,726.3 692.5,721.1 696.5,720.7 700.5,725.2 704.5,727.0 708.5,722.9 712.5,720.7 716.5,733.8 720.5,734.4 724.5,739.5 728.5,734.8 732.5,734.5 736.5,731.1 740.5,727.4 744.5,730.9 748.5,740.2 752.5,737.2 756.5,739.1 760.5,729.4 764.5,736.3 768.5,736.3 772.5,730.7 776.5,731.3 780.5,733.9 784.5,730.5 788.5,729.0 792.5,735.5 796.5,722.5 800.5,715.1 804.5,718.2 808.5,721.5 812.5,721.3 816.5,722.8 820.5,734.8 824.5,727.4 828.5,723.2 832.5,727.9 836.5,724.1 840.5,728.7 844.5,725.0 848.5,724.8 852.5,726.5 856.5,734.1 860.5,731.1 864.5,725.3 868.5,729.0 872.5,732.4 876.5,728.7 880.5,732.5 884.5,732.2 888.5,735.8 892.5,740.5 896.5,733.5 900.5,726.9 904.5,732.6 908.5,734.3 912.5,734.3 916.5,724.5 920.5,720.9 924.5,718.0 928.5,721.0 932.5,721.0 936.5,737.7 940.5,745.8 944.5,739.9 948.5,748.9 952.5,757.5 956.5,757.6 960.5,758.3 964.5,754.5 968.5,744.2 972.5,745.1 976.5,730.8 980.5,731.4 984.5,730.3 988.5,737.8 992.5,749.9 996.5,757.5 1000.5,753.6 1004.5,754.3 1008.5,756.1 1012.5,756.2 1016.5,761.0 1020.5,763.3 1024.5,764.4 1028.5,761.7 1032.5,753.1 1036.5,756.6 1040.5,760.3 1044.5,761.2 1048.5,753.3 1052.5,754.2 1056.5,749.3 1060.5,744.6 1064.5,751.1 1068.5,751.7 1072.5,755.8 1076.5,755.4 1080.5,751.5 1084.5,744.1 1088.5,750.8 1092.5,751.0 1096.5,745.1 1100.5,745.6 1104.5,732.3 1108.5,730.6 1112.5,730.3 1116.5,727.1 1120.5,725.3 1124.5,726.1 1128.5,728.2" fill="none" stroke="#1e90ff" stroke-width="1"/></g>
<g font-size="9" fill="#000">
<text x="1423" y="679">100</text><text x="1423" y="712">70</text><text x="1423" y="763">30</text><text x="1423" y="795">0</text>
</g>
<g shape-rendering="crispEdges">
<rect x="4" y="799" width="1" height="3" fill="#000"/>
<rect x="68" y="799" width="1" height="3" fill="#000"/>
<rect x="132" y="799" width="1" height="3" fill="#000"/>
<rect x="196" y="799" width="1" height="3" fill="#000"/>
<rect x="260" y="799" width="1" height="3" fill="#000"/>
<rect x="324" y="799" width="1" height="3" fill="#000"/>
<rect x="388" y="799" width="1" height="3" fill="#000"/>
<rect x="452" y="799" width="1" height="3" fill="#000"/>
<rect x="516" y="799" width="1" height="3" fill="#000"/>
<rect x="580" y="799" width="1" height="3" fill="#000"/>
<rect x="644" y="799" width="1" height="3" fill="#000"/>
<rect x="708" y="799" width="1" height="3" fill="#000"/>
<rect x="772" y="799" width="1" height="3" fill="#000"/>
<rect x="836" y="799" width="1" height="3" fill="#000"/>
<rect x="900" y="799" width="1" height="3" fill="#000"/>
<rect x="964" y="799" width="1" height="3" fill="#000"/>
<rect x="1028" y="799" width="1" height="3" fill="#000"/>
<rect x="1092" y="799" width="1" height="3" fill="#000"/>
</g><g font-size="9.1" fill="#000">
<text x="3.5" y="811">3 Sep 2018</text>
<text x="67.5" y="811">21 Sep 2018</text>
<text x="131.5" y="811">10 Oct 2018</text>
<text x="195.5" y="811">29 Oct 2018</text>
<text x="259.5" y="811">16 Nov 2018</text>
<text x="323.5" y="811">5 Dec 2018</text>
<text x="387.5" y="811">24 Dec 2018</text>
<text x="451.5" y="811">11 Jan 2019</text>
<text x="515.5" y="811">30 Jan 2019</text>
<text x="579.5" y="811">18 Feb 2019</text>
<text x="643.5" y="811">8 Mar 2019</text>
<text x="707.5" y="811">27 Mar 2019</text>
<text x="771.5" y="811">15 Apr 2019</text>
<text x="835.5" y="811">5 May 2019</text>
<text x="899.5" y="811">23 May 2019</text>
<text x="963.5" y="811">11 Jun 2019</text>
<text x="1027.5" y="811">30 Jun 2019</text>
<text x="1091.5" y="811">18 Jul 2019</text>
</g>
<polygon points="7,33 10.5,29 14,33" fill="#000"/>
<text x="19.5" y="34" font-size="9.7" fill="#000">USDCAD-,Daily</text>
<text x="94.6" y="34" font-size="9.8" fill="#000" textLength="32.3" lengthAdjust="spacingAndGlyphs">1.31677</text>
<text x="130.3" y="34" font-size="9.8" fill="#000" textLength="32.3" lengthAdjust="spacingAndGlyphs">1.31702</text>
<text x="166.0" y="34" font-size="9.8" fill="#000" textLength="32.3" lengthAdjust="spacingAndGlyphs">1.31603</text>
<text x="201.7" y="34" font-size="9.8" fill="#000" textLength="32.3" lengthAdjust="spacingAndGlyphs">1.31605</text>
<text x="8" y="576" font-size="9.3" fill="#000">MACD(12,26,9) -0.000237 -0.002587</text>
<text x="8" y="681" font-size="9.3" fill="#000">RSI(14) 54.8888</text>
<g shape-rendering="crispEdges">
<rect x="0" y="819" width="1461" height="1" fill="#e3e3e3"/>
<rect x="0" y="820" width="1461" height="1" fill="#ffffff"/>
<rect x="0" y="821" width="1461" height="1" fill="#000000"/>
<rect x="0" y="822" width="1461" height="19" fill="#f0f0f0"/>
<rect x="0" y="841" width="1461" height="3" fill="#ffffff"/>
<rect x="0" y="844" width="1461" height="1" fill="#d0d0d0"/>
<rect x="0" y="845" width="1461" height="1" fill="#a0a0a0"/>
<rect x="0" y="822" width="1" height="19" fill="#7a7a7a"/>
<rect x="330" y="821" width="107" height="19" fill="#ffffff"/>
<rect x="329" y="821" width="1" height="19" fill="#000"/>
<rect x="436" y="821" width="1" height="19" fill="#000"/>
<rect x="329" y="839" width="108" height="1" fill="#000"/>
<rect x="114" y="825" width="1" height="12" fill="#6d6d6d"/>
<rect x="221" y="825" width="1" height="12" fill="#6d6d6d"/>
<rect x="538" y="825" width="1" height="12" fill="#6d6d6d"/>
<rect x="656" y="825" width="1" height="12" fill="#6d6d6d"/>
<rect x="778" y="825" width="1" height="12" fill="#6d6d6d"/>
<rect x="877" y="825" width="1" height="12" fill="#6d6d6d"/>
<rect x="956" y="825" width="1" height="12" fill="#6d6d6d"/>
<rect x="1061" y="825" width="1" height="12" fill="#6d6d6d"/>
</g>
<g font-size="12" fill="#6d6d6d">
<text x="16.5" y="836">EURUSD-,Daily</text>
<text x="123.5" y="836">AUDUSD-,Daily</text>
<text x="233.5" y="836">USDCHF-,Daily</text>
<text x="450" y="836">USDCNH-,H4</text>
<text x="549" y="836">EURCHF-,Weekly</text>
<text x="668.5" y="836">XAUUSD-,Weekly</text>
<text x="792" y="836">GBPUSD-,H1</text>
<text x="888" y="836">UKOil-,H1</text>
<text x="968" y="836">USDX-,Weekly</text>
</g>
<text x="340" y="836" font-size="12" fill="#000">USDCAD-,Daily</text>
<polygon points="1438.5,826.5 1438.5,833.5 1435,830" fill="#909090"/>
<polygon points="1454,826.5 1454,833.5 1457.5,830" fill="#909090"/>
<defs>
<linearGradient id="gh" x1="0" y1="0" x2="0" y2="1"><stop offset="0" stop-color="#f55a5a"/><stop offset="1" stop-color="#e22a2a"/></linearGradient>
<linearGradient id="gp" x1="0" y1="0" x2="0" y2="1"><stop offset="0" stop-color="#e23030"/><stop offset="1" stop-color="#b00000"/></linearGradient>
<linearGradient id="gb" x1="0" y1="0" x2="0" y2="1"><stop offset="0" stop-color="#f4f4f4"/><stop offset="1" stop-color="#cfcfcf"/></linearGradient>
</defs>
<g shape-rendering="crispEdges">
<rect x="7" y="42" width="52" height="24" fill="url(#gh)"/>
<rect x="174" y="42" width="52" height="24" fill="url(#gh)"/>
<rect x="7" y="66" width="109" height="40" fill="url(#gp)"/>
<rect x="118" y="66" width="108" height="40" fill="url(#gp)"/>
<rect x="11" y="66" width="44" height="1" fill="#a00000"/>
<rect x="178" y="66" width="44" height="1" fill="#a00000"/>
<rect x="61.5" y="42.5" width="111" height="21" fill="#ffffff" stroke="#b4b4b4" stroke-width="1"/>
<rect x="62" y="43" width="20" height="8" fill="#ededed"/>
<rect x="62" y="51" width="20" height="12" fill="#d9d9d9"/>
<rect x="152" y="43" width="20" height="8" fill="#ededed"/>
<rect x="152" y="51" width="20" height="12" fill="#d9d9d9"/>
<rect x="82" y="43" width="1" height="20" fill="#c4c4c4"/>
<rect x="151" y="43" width="1" height="20" fill="#c4c4c4"/>
<rect x="62" y="62" width="20" height="1" fill="#c4c4c4"/>
<rect x="152" y="62" width="20" height="1" fill="#c4c4c4"/>
</g>
<polygon points="69,51.3 74.5,51.3 71.75,54.3" fill="#5a6fc8"/>
<polygon points="158,54 163.5,54 160.75,51" fill="#5a6fc8"/>
<text x="147" y="57" font-size="12" fill="#000" text-anchor="end">1.00</text>
<text x="19.3" y="58" font-size="11" fill="#ffffff" textLength="25.5" lengthAdjust="spacingAndGlyphs">SELL</text>
<text x="186.8" y="58" font-size="11" fill="#ffffff" textLength="23.5" lengthAdjust="spacingAndGlyphs">BUY</text>
<g fill="#ffffff">
<text x="27.3" y="97" font-size="12.5" font-weight="bold" textLength="23.5" lengthAdjust="spacingAndGlyphs">1.31</text>
<text x="53.8" y="97" font-size="34.5" textLength="36.5" lengthAdjust="spacingAndGlyphs">60</text>
<text x="94.5" y="81" font-size="12" font-weight="bold">5</text>
<text x="137" y="97" font-size="12.5" font-weight="bold" textLength="23.5" lengthAdjust="spacingAndGlyphs">1.31</text>
<text x="165" y="97" font-size="34.5" textLength="35" lengthAdjust="spacingAndGlyphs">62</text>
<text x="205" y="81" font-size="12" font-weight="bold">7</text>
</g>
</svg>
</body></html>
